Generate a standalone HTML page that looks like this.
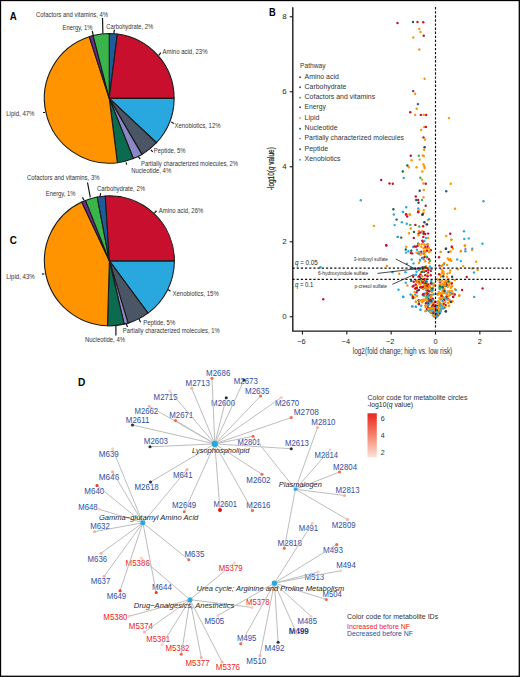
<!DOCTYPE html>
<html><head><meta charset="utf-8"><style>
html,body{margin:0;padding:0;background:#fff;}
#f{position:absolute;left:0;top:0;width:520px;height:677px;overflow:hidden;background:#fff;}
svg{display:block;font-family:"Liberation Sans", sans-serif;}
</style></head><body><div id="f">
<svg width="520" height="677" viewBox="0 0 520 677">
<rect x="0" y="0" width="520" height="677" fill="#fff"/>
<path d="M109.25,98.35 L109.25,33.50 A64.85,64.85 0 0 1 117.38,34.01 Z" fill="#1d5b9a" stroke="#1a1a1a" stroke-width="1.1" stroke-linejoin="round"/>
<path d="M109.25,98.35 L117.38,34.01 A64.85,64.85 0 0 1 174.10,98.35 Z" fill="#c8102e" stroke="#1a1a1a" stroke-width="1.1" stroke-linejoin="round"/>
<path d="M109.25,98.35 L174.10,98.35 A64.85,64.85 0 0 1 156.52,142.74 Z" fill="#29a8e0" stroke="#1a1a1a" stroke-width="1.1" stroke-linejoin="round"/>
<path d="M109.25,98.35 L156.52,142.74 A64.85,64.85 0 0 1 141.87,154.40 Z" fill="#4a5566" stroke="#1a1a1a" stroke-width="1.1" stroke-linejoin="round"/>
<path d="M109.25,98.35 L141.87,154.40 A64.85,64.85 0 0 1 133.33,158.56 Z" fill="#8d86c9" stroke="#1a1a1a" stroke-width="1.1" stroke-linejoin="round"/>
<path d="M109.25,98.35 L133.33,158.56 A64.85,64.85 0 0 1 117.38,162.69 Z" fill="#0b6b4e" stroke="#1a1a1a" stroke-width="1.1" stroke-linejoin="round"/>
<path d="M109.25,98.35 L117.38,162.69 A64.85,64.85 0 0 1 89.21,36.67 Z" fill="#ff9400" stroke="#1a1a1a" stroke-width="1.1" stroke-linejoin="round"/>
<path d="M109.25,98.35 L89.21,36.67 A64.85,64.85 0 0 1 93.12,35.54 Z" fill="#662d8c" stroke="#1a1a1a" stroke-width="1.1" stroke-linejoin="round"/>
<path d="M109.25,98.35 L93.12,35.54 A64.85,64.85 0 0 1 109.25,33.50 Z" fill="#3ab54a" stroke="#1a1a1a" stroke-width="1.1" stroke-linejoin="round"/>
<path d="M109.40,260.85 L174.40,260.85 A65.0,65.0 0 0 1 147.97,313.17 Z" fill="#29a8e0" stroke="#1a1a1a" stroke-width="1.1" stroke-linejoin="round"/>
<path d="M109.40,260.85 L147.97,313.17 A65.0,65.0 0 0 1 128.08,323.11 Z" fill="#4a5566" stroke="#1a1a1a" stroke-width="1.1" stroke-linejoin="round"/>
<path d="M109.40,260.85 L128.08,323.11 A65.0,65.0 0 0 1 124.13,324.16 Z" fill="#8d86c9" stroke="#1a1a1a" stroke-width="1.1" stroke-linejoin="round"/>
<path d="M109.40,260.85 L124.13,324.16 A65.0,65.0 0 0 1 107.47,325.82 Z" fill="#0b6b4e" stroke="#1a1a1a" stroke-width="1.1" stroke-linejoin="round"/>
<path d="M109.40,260.85 L107.47,325.82 A65.0,65.0 0 0 1 81.72,202.04 Z" fill="#ff9400" stroke="#1a1a1a" stroke-width="1.1" stroke-linejoin="round"/>
<path d="M109.40,260.85 L81.72,202.04 A65.0,65.0 0 0 1 85.47,200.41 Z" fill="#662d8c" stroke="#1a1a1a" stroke-width="1.1" stroke-linejoin="round"/>
<path d="M109.40,260.85 L85.47,200.41 A65.0,65.0 0 0 1 97.22,197.00 Z" fill="#3ab54a" stroke="#1a1a1a" stroke-width="1.1" stroke-linejoin="round"/>
<path d="M109.40,260.85 L97.22,197.00 A65.0,65.0 0 0 1 105.32,195.98 Z" fill="#1d5b9a" stroke="#1a1a1a" stroke-width="1.1" stroke-linejoin="round"/>
<path d="M109.40,260.85 L105.32,195.98 A65.0,65.0 0 0 1 174.40,260.85 Z" fill="#c8102e" stroke="#1a1a1a" stroke-width="1.1" stroke-linejoin="round"/>
<text x="36.00" y="16.50" font-size="6.9" fill="#333333" textLength="72.00" lengthAdjust="spacingAndGlyphs">Cofactors and vitamins, 4%</text>
<text x="62.50" y="29.50" font-size="6.9" fill="#333333" textLength="30.00" lengthAdjust="spacingAndGlyphs">Energy, 1%</text>
<text x="106.25" y="28.75" font-size="6.9" fill="#333333" textLength="47.00" lengthAdjust="spacingAndGlyphs">Carbohydrate, 2%</text>
<text x="162.50" y="53.75" font-size="6.9" fill="#333333" textLength="45.00" lengthAdjust="spacingAndGlyphs">Amino acid, 23%</text>
<text x="174.50" y="128.00" font-size="6.9" fill="#333333" textLength="46.00" lengthAdjust="spacingAndGlyphs">Xenobiotics, 12%</text>
<text x="153.75" y="153.25" font-size="6.9" fill="#333333" textLength="31.75" lengthAdjust="spacingAndGlyphs">Peptide, 5%</text>
<text x="141.00" y="165.60" font-size="6.9" fill="#333333" textLength="97.00" lengthAdjust="spacingAndGlyphs">Partially characterized molecules, 2%</text>
<text x="131.20" y="172.90" font-size="6.9" fill="#333333" textLength="40.00" lengthAdjust="spacingAndGlyphs">Nucleotide, 4%</text>
<text x="6.25" y="115.75" font-size="6.9" fill="#333333" textLength="28.25" lengthAdjust="spacingAndGlyphs">Lipid, 47%</text>
<line x1="102.50" y1="18.00" x2="102.90" y2="33.60" stroke="#151515" stroke-width="1.2"/>
<line x1="92.20" y1="30.80" x2="93.20" y2="35.20" stroke="#151515" stroke-width="1.2"/>
<line x1="114.40" y1="29.60" x2="113.80" y2="33.80" stroke="#151515" stroke-width="1.2"/>
<line x1="158.80" y1="55.30" x2="160.80" y2="52.60" stroke="#151515" stroke-width="1.2"/>
<line x1="171.30" y1="122.00" x2="173.80" y2="123.60" stroke="#151515" stroke-width="1.2"/>
<line x1="150.90" y1="149.80" x2="152.70" y2="151.90" stroke="#151515" stroke-width="1.2"/>
<line x1="138.30" y1="156.70" x2="140.20" y2="159.00" stroke="#151515" stroke-width="1.2"/>
<line x1="126.10" y1="162.30" x2="126.70" y2="164.60" stroke="#151515" stroke-width="1.2"/>
<line x1="43.00" y1="112.50" x2="45.00" y2="112.50" stroke="#151515" stroke-width="1.2"/>
<text x="27.00" y="180.00" font-size="6.9" fill="#333333" textLength="72.50" lengthAdjust="spacingAndGlyphs">Cofactors and vitamins, 3%</text>
<text x="45.75" y="196.25" font-size="6.9" fill="#333333" textLength="29.75" lengthAdjust="spacingAndGlyphs">Energy, 1%</text>
<text x="97.00" y="190.90" font-size="6.9" fill="#333333" textLength="48.00" lengthAdjust="spacingAndGlyphs">Carbohydrate, 2%</text>
<text x="158.75" y="212.50" font-size="6.9" fill="#333333" textLength="44.50" lengthAdjust="spacingAndGlyphs">Amino acid, 26%</text>
<text x="172.50" y="295.50" font-size="6.9" fill="#333333" textLength="46.25" lengthAdjust="spacingAndGlyphs">Xenobiotics, 15%</text>
<text x="143.20" y="324.60" font-size="6.9" fill="#333333" textLength="32.00" lengthAdjust="spacingAndGlyphs">Peptide, 5%</text>
<text x="122.80" y="333.40" font-size="6.9" fill="#333333" textLength="96.80" lengthAdjust="spacingAndGlyphs">Partially characterized molecules, 1%</text>
<text x="85.00" y="342.00" font-size="6.9" fill="#333333" textLength="40.00" lengthAdjust="spacingAndGlyphs">Nucleotide, 4%</text>
<text x="6.25" y="278.75" font-size="6.9" fill="#333333" textLength="28.50" lengthAdjust="spacingAndGlyphs">Lipid, 43%</text>
<line x1="87.50" y1="182.50" x2="90.30" y2="197.40" stroke="#151515" stroke-width="1.2"/>
<line x1="82.50" y1="197.20" x2="83.90" y2="200.20" stroke="#151515" stroke-width="1.2"/>
<line x1="100.60" y1="193.20" x2="100.10" y2="196.60" stroke="#151515" stroke-width="1.2"/>
<line x1="154.50" y1="213.00" x2="156.50" y2="210.75" stroke="#151515" stroke-width="1.2"/>
<line x1="168.00" y1="289.50" x2="170.50" y2="291.25" stroke="#151515" stroke-width="1.2"/>
<line x1="139.00" y1="319.10" x2="140.60" y2="322.30" stroke="#151515" stroke-width="1.2"/>
<line x1="126.30" y1="324.00" x2="127.50" y2="326.90" stroke="#151515" stroke-width="1.2"/>
<line x1="115.90" y1="325.80" x2="115.90" y2="335.60" stroke="#151515" stroke-width="1.2"/>
<line x1="41.90" y1="274.00" x2="44.40" y2="274.00" stroke="#151515" stroke-width="1.2"/>
<text x="9.80" y="19.60" font-size="10.6" fill="#000" textLength="7.00" lengthAdjust="spacingAndGlyphs" font-weight="bold">A</text>
<text x="269.00" y="15.60" font-size="10.6" fill="#000" textLength="6.70" lengthAdjust="spacingAndGlyphs" font-weight="bold">B</text>
<text x="9.80" y="243.70" font-size="10.6" fill="#000" textLength="7.10" lengthAdjust="spacingAndGlyphs" font-weight="bold">C</text>
<text x="78.00" y="385.50" font-size="10.6" fill="#000" textLength="7.30" lengthAdjust="spacingAndGlyphs" font-weight="bold">D</text>
<path d="M292.8,7.2 V331.1 H511.8" fill="none" stroke="#1a1a1a" stroke-width="1.4"/>
<line x1="289.70" y1="316.75" x2="292.80" y2="316.75" stroke="#1a1a1a" stroke-width="1.1"/>
<text x="286.60" y="319.20" font-size="7.9" fill="#231f20" text-anchor="end">0</text>
<line x1="289.70" y1="241.75" x2="292.80" y2="241.75" stroke="#1a1a1a" stroke-width="1.1"/>
<text x="286.60" y="244.20" font-size="7.9" fill="#231f20" text-anchor="end">2</text>
<line x1="289.70" y1="166.75" x2="292.80" y2="166.75" stroke="#1a1a1a" stroke-width="1.1"/>
<text x="286.60" y="169.20" font-size="7.9" fill="#231f20" text-anchor="end">4</text>
<line x1="289.70" y1="91.75" x2="292.80" y2="91.75" stroke="#1a1a1a" stroke-width="1.1"/>
<text x="286.60" y="94.20" font-size="7.9" fill="#231f20" text-anchor="end">6</text>
<line x1="289.70" y1="16.75" x2="292.80" y2="16.75" stroke="#1a1a1a" stroke-width="1.1"/>
<text x="286.60" y="19.20" font-size="7.9" fill="#231f20" text-anchor="end">8</text>
<line x1="302.48" y1="331.10" x2="302.48" y2="334.60" stroke="#1a1a1a" stroke-width="1.1"/>
<text x="301.48" y="343.70" font-size="7.4" fill="#231f20" text-anchor="middle">−6</text>
<line x1="346.82" y1="331.10" x2="346.82" y2="334.60" stroke="#1a1a1a" stroke-width="1.1"/>
<text x="345.82" y="343.70" font-size="7.4" fill="#231f20" text-anchor="middle">−4</text>
<line x1="391.16" y1="331.10" x2="391.16" y2="334.60" stroke="#1a1a1a" stroke-width="1.1"/>
<text x="390.16" y="343.70" font-size="7.4" fill="#231f20" text-anchor="middle">−2</text>
<line x1="435.50" y1="331.10" x2="435.50" y2="334.60" stroke="#1a1a1a" stroke-width="1.1"/>
<text x="435.50" y="343.70" font-size="7.4" fill="#231f20" text-anchor="middle">0</text>
<line x1="479.84" y1="331.10" x2="479.84" y2="334.60" stroke="#1a1a1a" stroke-width="1.1"/>
<text x="479.84" y="343.70" font-size="7.4" fill="#231f20" text-anchor="middle">2</text>
<text x="352.70" y="353.90" font-size="9" fill="#333333" textLength="99.60" lengthAdjust="spacingAndGlyphs">log2(fold change; high vs. low risk)</text>
<text transform="translate(274.4,190.2) rotate(-90)" font-size="9" fill="#1a1a1a" stroke="#1a1a1a" stroke-width="0.2" textLength="43" lengthAdjust="spacingAndGlyphs">-log10(<tspan font-style="italic">q</tspan> value)</text>
<text x="295" y="264.6" font-size="6.3" fill="#231f20" textLength="22.8" lengthAdjust="spacingAndGlyphs"><tspan font-style="italic">q</tspan> = 0.05</text>
<text x="295" y="286.6" font-size="6.3" fill="#231f20" textLength="18.4" lengthAdjust="spacingAndGlyphs"><tspan font-style="italic">q</tspan> = 0.1</text>
<text x="353.80" y="261.10" font-size="5.6" fill="#2a2a2a" textLength="34.20" lengthAdjust="spacingAndGlyphs">3-indoxyl sulfate</text>
<text x="318.00" y="275.30" font-size="5.6" fill="#2a2a2a" textLength="50.20" lengthAdjust="spacingAndGlyphs">6-hydroxyindole sulfate</text>
<text x="354.40" y="288.10" font-size="5.6" fill="#2a2a2a" textLength="32.60" lengthAdjust="spacingAndGlyphs">p-cresol sulfate</text>
<text x="300.00" y="67.60" font-size="7.2" fill="#333333" textLength="25.50" lengthAdjust="spacingAndGlyphs">Pathway</text>
<circle cx="300.10" cy="77.15" r="0.95" fill="#c8102e"/>
<text x="304.60" y="78.75" font-size="7.2" fill="#333333" textLength="34.20" lengthAdjust="spacingAndGlyphs">Amino acid</text>
<circle cx="300.10" cy="87.30" r="0.95" fill="#1d5b9a"/>
<text x="304.60" y="88.90" font-size="7.2" fill="#333333" textLength="41.80" lengthAdjust="spacingAndGlyphs">Carbohydrate</text>
<circle cx="300.10" cy="97.70" r="0.95" fill="#3ab54a"/>
<text x="304.60" y="99.30" font-size="7.2" fill="#333333" textLength="70.60" lengthAdjust="spacingAndGlyphs">Cofactors and vitamins</text>
<circle cx="300.10" cy="107.30" r="0.95" fill="#662d8c"/>
<text x="304.60" y="108.90" font-size="7.2" fill="#333333" textLength="21.30" lengthAdjust="spacingAndGlyphs">Energy</text>
<circle cx="300.10" cy="117.90" r="0.95" fill="#ff9400"/>
<text x="304.60" y="119.50" font-size="7.2" fill="#333333" textLength="14.80" lengthAdjust="spacingAndGlyphs">Lipid</text>
<circle cx="300.10" cy="128.80" r="0.95" fill="#0b6b4e"/>
<text x="304.60" y="130.40" font-size="7.2" fill="#333333" textLength="33.00" lengthAdjust="spacingAndGlyphs">Nucleotide</text>
<circle cx="300.10" cy="138.60" r="0.95" fill="#8d86c9"/>
<text x="304.60" y="140.20" font-size="7.2" fill="#333333" textLength="99.20" lengthAdjust="spacingAndGlyphs">Partially characterized molecules</text>
<circle cx="300.10" cy="149.20" r="0.95" fill="#4a5566"/>
<text x="304.60" y="150.80" font-size="7.2" fill="#333333" textLength="23.50" lengthAdjust="spacingAndGlyphs">Peptide</text>
<circle cx="300.10" cy="159.70" r="0.95" fill="#29a8e0"/>
<text x="304.60" y="161.30" font-size="7.2" fill="#333333" textLength="36.00" lengthAdjust="spacingAndGlyphs">Xenobiotics</text>
<circle cx="397.50" cy="23.00" r="1.2" fill="#c8102e"/>
<circle cx="413.00" cy="22.00" r="1.2" fill="#0b6b4e"/>
<circle cx="417.50" cy="22.00" r="1.2" fill="#c8102e"/>
<circle cx="423.25" cy="22.20" r="1.2" fill="#c8102e"/>
<circle cx="419.25" cy="29.00" r="1.2" fill="#ff9400"/>
<circle cx="420.50" cy="32.00" r="1.2" fill="#ff9400"/>
<circle cx="423.75" cy="35.75" r="1.2" fill="#c8102e"/>
<circle cx="413.25" cy="37.50" r="1.2" fill="#ff9400"/>
<circle cx="419.25" cy="49.50" r="1.2" fill="#ff9400"/>
<circle cx="424.60" cy="78.70" r="1.2" fill="#ff9400"/>
<circle cx="413.20" cy="91.10" r="1.2" fill="#662d8c"/>
<circle cx="415.10" cy="93.70" r="1.2" fill="#ff9400"/>
<circle cx="417.90" cy="104.10" r="1.2" fill="#1d5b9a"/>
<circle cx="416.70" cy="108.80" r="1.2" fill="#ff9400"/>
<circle cx="448.90" cy="118.10" r="1.2" fill="#ff9400"/>
<circle cx="410.20" cy="112.30" r="1.2" fill="#c8102e"/>
<circle cx="415.10" cy="114.90" r="1.2" fill="#ff9400"/>
<circle cx="420.80" cy="114.90" r="1.2" fill="#c8102e"/>
<circle cx="423.80" cy="114.90" r="1.2" fill="#ff9400"/>
<circle cx="426.20" cy="114.90" r="1.2" fill="#c8102e"/>
<circle cx="424.30" cy="126.90" r="1.2" fill="#ff9400"/>
<circle cx="425.90" cy="126.90" r="1.2" fill="#c8102e"/>
<circle cx="421.20" cy="130.00" r="1.2" fill="#ff9400"/>
<circle cx="423.50" cy="137.40" r="1.2" fill="#c8102e"/>
<circle cx="425.10" cy="139.50" r="1.2" fill="#ff9400"/>
<circle cx="424.60" cy="147.20" r="1.2" fill="#34405a"/>
<circle cx="424.20" cy="150.00" r="1.2" fill="#ff9400"/>
<circle cx="410.80" cy="155.70" r="1.2" fill="#c8102e"/>
<circle cx="418.80" cy="155.70" r="1.2" fill="#3ab54a"/>
<circle cx="422.80" cy="155.40" r="1.2" fill="#ff9400"/>
<circle cx="423.80" cy="156.00" r="1.2" fill="#ff9400"/>
<circle cx="411.50" cy="160.20" r="1.2" fill="#ff9400"/>
<circle cx="419.70" cy="159.60" r="1.2" fill="#ff9400"/>
<circle cx="407.40" cy="165.50" r="1.2" fill="#0b6b4e"/>
<circle cx="408.90" cy="167.30" r="1.2" fill="#ff9400"/>
<circle cx="416.50" cy="167.30" r="1.2" fill="#ff9400"/>
<circle cx="423.50" cy="164.50" r="1.2" fill="#ff9400"/>
<circle cx="424.30" cy="166.50" r="1.2" fill="#ff9400"/>
<circle cx="424.60" cy="168.00" r="1.2" fill="#ff9400"/>
<circle cx="402.80" cy="171.50" r="1.2" fill="#0b6b4e"/>
<circle cx="422.30" cy="171.50" r="1.2" fill="#ff9400"/>
<circle cx="403.80" cy="178.00" r="1.2" fill="#29a8e0"/>
<circle cx="420.30" cy="177.80" r="1.2" fill="#3ab54a"/>
<circle cx="422.00" cy="179.60" r="1.2" fill="#ff9400"/>
<circle cx="381.20" cy="180.00" r="1.2" fill="#c8102e"/>
<circle cx="389.50" cy="183.50" r="1.2" fill="#c8102e"/>
<circle cx="392.80" cy="183.80" r="1.2" fill="#c8102e"/>
<circle cx="423.40" cy="183.50" r="1.2" fill="#ff9400"/>
<circle cx="425.80" cy="183.80" r="1.2" fill="#c8102e"/>
<circle cx="450.70" cy="183.80" r="1.2" fill="#ff9400"/>
<circle cx="419.70" cy="190.80" r="1.2" fill="#34405a"/>
<circle cx="423.80" cy="189.90" r="1.2" fill="#ff9400"/>
<circle cx="446.20" cy="191.30" r="1.2" fill="#1d5b9a"/>
<circle cx="415.80" cy="196.50" r="1.2" fill="#c8102e"/>
<circle cx="423.50" cy="197.30" r="1.2" fill="#ff9400"/>
<circle cx="416.20" cy="200.00" r="1.2" fill="#0b6b4e"/>
<circle cx="418.20" cy="200.00" r="1.2" fill="#c8102e"/>
<circle cx="422.00" cy="200.00" r="1.2" fill="#3ab54a"/>
<circle cx="418.50" cy="202.70" r="1.2" fill="#34405a"/>
<circle cx="425.70" cy="205.80" r="1.2" fill="#c8102e"/>
<circle cx="393.40" cy="209.30" r="1.2" fill="#0b6b4e"/>
<circle cx="406.20" cy="207.30" r="1.2" fill="#29a8e0"/>
<circle cx="418.20" cy="208.50" r="1.2" fill="#29a8e0"/>
<circle cx="419.20" cy="210.40" r="1.2" fill="#ff9400"/>
<circle cx="423.80" cy="210.10" r="1.2" fill="#ff9400"/>
<circle cx="455.00" cy="208.80" r="1.2" fill="#ff9400"/>
<circle cx="403.10" cy="211.90" r="1.2" fill="#29a8e0"/>
<circle cx="423.50" cy="212.70" r="1.2" fill="#ff9400"/>
<circle cx="418.20" cy="212.20" r="1.2" fill="#c8102e"/>
<circle cx="393.80" cy="214.50" r="1.2" fill="#29a8e0"/>
<circle cx="406.20" cy="214.20" r="1.2" fill="#c8102e"/>
<circle cx="409.70" cy="214.20" r="1.2" fill="#ff9400"/>
<circle cx="422.80" cy="214.20" r="1.2" fill="#34405a"/>
<circle cx="360.80" cy="200.20" r="1.2" fill="#29a8e0"/>
<circle cx="374.00" cy="225.90" r="1.2" fill="#ff9400"/>
<circle cx="483.50" cy="201.20" r="1.2" fill="#29a8e0"/>
<circle cx="402.90" cy="211.90" r="1.2" fill="#29a8e0"/>
<circle cx="418.50" cy="210.50" r="1.2" fill="#ff9400"/>
<circle cx="418.00" cy="211.90" r="1.2" fill="#c8102e"/>
<circle cx="406.00" cy="214.60" r="1.2" fill="#c8102e"/>
<circle cx="407.20" cy="216.50" r="1.2" fill="#c8102e"/>
<circle cx="410.00" cy="214.80" r="1.2" fill="#ff9400"/>
<circle cx="422.30" cy="214.80" r="1.2" fill="#34405a"/>
<circle cx="396.60" cy="219.60" r="1.2" fill="#0b6b4e"/>
<circle cx="427.80" cy="220.10" r="1.2" fill="#ff9400"/>
<circle cx="429.00" cy="219.30" r="1.2" fill="#29a8e0"/>
<circle cx="401.90" cy="222.30" r="1.2" fill="#29a8e0"/>
<circle cx="406.70" cy="223.75" r="1.2" fill="#29a8e0"/>
<circle cx="394.60" cy="225.10" r="1.2" fill="#29a8e0"/>
<circle cx="424.40" cy="222.30" r="1.2" fill="#34405a"/>
<circle cx="426.00" cy="224.20" r="1.2" fill="#ff9400"/>
<circle cx="427.10" cy="224.40" r="1.2" fill="#34405a"/>
<circle cx="410.30" cy="224.90" r="1.2" fill="#3ab54a"/>
<circle cx="415.40" cy="224.90" r="1.2" fill="#c8102e"/>
<circle cx="419.20" cy="226.50" r="1.2" fill="#3ab54a"/>
<circle cx="423.10" cy="226.20" r="1.2" fill="#c8102e"/>
<circle cx="410.80" cy="228.50" r="1.2" fill="#ff9400"/>
<circle cx="414.00" cy="231.90" r="1.2" fill="#0b6b4e"/>
<circle cx="418.90" cy="231.20" r="1.2" fill="#ff9400"/>
<circle cx="422.10" cy="231.30" r="1.2" fill="#ff9400"/>
<circle cx="423.75" cy="231.90" r="1.2" fill="#c8102e"/>
<circle cx="420.40" cy="232.60" r="1.2" fill="#c8102e"/>
<circle cx="418.50" cy="233.80" r="1.2" fill="#c8102e"/>
<circle cx="423.50" cy="233.80" r="1.2" fill="#0b6b4e"/>
<circle cx="425.20" cy="234.00" r="1.2" fill="#c8102e"/>
<circle cx="428.10" cy="233.60" r="1.2" fill="#c8102e"/>
<circle cx="409.00" cy="233.30" r="1.2" fill="#ff9400"/>
<circle cx="418.50" cy="235.20" r="1.2" fill="#ff9400"/>
<circle cx="397.80" cy="236.90" r="1.2" fill="#29a8e0"/>
<circle cx="401.20" cy="237.60" r="1.2" fill="#0b6b4e"/>
<circle cx="413.80" cy="237.90" r="1.2" fill="#c8102e"/>
<circle cx="423.30" cy="236.90" r="1.2" fill="#c8102e"/>
<circle cx="426.00" cy="238.10" r="1.2" fill="#29a8e0"/>
<circle cx="428.10" cy="237.90" r="1.2" fill="#ff9400"/>
<circle cx="422.30" cy="240.80" r="1.2" fill="#c8102e"/>
<circle cx="423.10" cy="241.70" r="1.2" fill="#c8102e"/>
<circle cx="424.40" cy="241.00" r="1.2" fill="#29a8e0"/>
<circle cx="418.30" cy="243.70" r="1.2" fill="#34405a"/>
<circle cx="418.50" cy="244.40" r="1.2" fill="#ff9400"/>
<circle cx="422.00" cy="244.10" r="1.2" fill="#ff9400"/>
<circle cx="424.20" cy="244.40" r="1.2" fill="#ff9400"/>
<circle cx="427.60" cy="244.40" r="1.2" fill="#c8102e"/>
<circle cx="397.70" cy="236.90" r="1.2" fill="#29a8e0"/>
<circle cx="464.00" cy="231.20" r="1.2" fill="#29a8e0"/>
<circle cx="450.20" cy="233.70" r="1.2" fill="#c8102e"/>
<circle cx="446.20" cy="236.00" r="1.2" fill="#ff9400"/>
<circle cx="464.30" cy="238.90" r="1.2" fill="#29a8e0"/>
<circle cx="468.80" cy="238.40" r="1.2" fill="#29a8e0"/>
<circle cx="451.30" cy="239.70" r="1.2" fill="#ff9400"/>
<circle cx="482.50" cy="243.80" r="1.2" fill="#29a8e0"/>
<circle cx="386.30" cy="245.40" r="1.2" fill="#c8102e"/>
<circle cx="406.20" cy="246.70" r="1.2" fill="#ff9400"/>
<circle cx="413.20" cy="247.00" r="1.2" fill="#29a8e0"/>
<circle cx="414.60" cy="246.40" r="1.2" fill="#c8102e"/>
<circle cx="416.00" cy="246.70" r="1.2" fill="#c8102e"/>
<circle cx="417.50" cy="245.90" r="1.2" fill="#c8102e"/>
<circle cx="419.40" cy="244.40" r="1.2" fill="#ff9400"/>
<circle cx="425.20" cy="244.90" r="1.2" fill="#ff9400"/>
<circle cx="428.10" cy="244.40" r="1.2" fill="#ff9400"/>
<circle cx="425.20" cy="247.30" r="1.2" fill="#c8102e"/>
<circle cx="427.60" cy="246.80" r="1.2" fill="#c8102e"/>
<circle cx="421.30" cy="246.80" r="1.2" fill="#ff9400"/>
<circle cx="423.75" cy="248.30" r="1.2" fill="#ff9400"/>
<circle cx="426.60" cy="248.80" r="1.2" fill="#ff9400"/>
<circle cx="429.00" cy="248.30" r="1.2" fill="#ff9400"/>
<circle cx="405.80" cy="249.50" r="1.2" fill="#0b6b4e"/>
<circle cx="408.40" cy="251.20" r="1.2" fill="#29a8e0"/>
<circle cx="406.00" cy="252.60" r="1.2" fill="#29a8e0"/>
<circle cx="411.25" cy="250.70" r="1.2" fill="#0b6b4e"/>
<circle cx="410.80" cy="253.10" r="1.2" fill="#c8102e"/>
<circle cx="412.20" cy="253.40" r="1.2" fill="#c8102e"/>
<circle cx="417.00" cy="249.70" r="1.2" fill="#29a8e0"/>
<circle cx="416.50" cy="252.60" r="1.2" fill="#ff9400"/>
<circle cx="418.50" cy="253.60" r="1.2" fill="#c8102e"/>
<circle cx="421.30" cy="251.70" r="1.2" fill="#c8102e"/>
<circle cx="424.20" cy="251.20" r="1.2" fill="#c8102e"/>
<circle cx="427.10" cy="250.70" r="1.2" fill="#c8102e"/>
<circle cx="429.00" cy="252.10" r="1.2" fill="#ff9400"/>
<circle cx="422.30" cy="257.90" r="1.2" fill="#c8102e"/>
<circle cx="427.10" cy="257.40" r="1.2" fill="#c8102e"/>
<circle cx="429.00" cy="259.30" r="1.2" fill="#c8102e"/>
<circle cx="423.75" cy="259.30" r="1.2" fill="#ff9400"/>
<circle cx="425.20" cy="261.30" r="1.2" fill="#ff9400"/>
<circle cx="419.90" cy="261.10" r="1.2" fill="#ff9400"/>
<circle cx="411.70" cy="259.50" r="1.2" fill="#29a8e0"/>
<circle cx="413.50" cy="263.40" r="1.2" fill="#29a8e0"/>
<circle cx="406.90" cy="263.70" r="1.2" fill="#29a8e0"/>
<circle cx="386.90" cy="265.90" r="1.2" fill="#ff9400"/>
<circle cx="412.20" cy="268.20" r="1.2" fill="#29a8e0"/>
<circle cx="415.60" cy="268.80" r="1.2" fill="#c8102e"/>
<circle cx="418.00" cy="268.50" r="1.2" fill="#34405a"/>
<circle cx="420.40" cy="268.50" r="1.2" fill="#0b6b4e"/>
<circle cx="422.30" cy="267.50" r="1.2" fill="#c8102e"/>
<circle cx="426.20" cy="266.10" r="1.2" fill="#ff9400"/>
<circle cx="428.60" cy="268.50" r="1.2" fill="#ff9400"/>
<circle cx="416.50" cy="271.80" r="1.2" fill="#29a8e0"/>
<circle cx="405.50" cy="272.30" r="1.2" fill="#29a8e0"/>
<circle cx="392.50" cy="272.30" r="1.2" fill="#29a8e0"/>
<circle cx="399.20" cy="273.80" r="1.2" fill="#ff9400"/>
<circle cx="421.30" cy="272.30" r="1.2" fill="#ff9400"/>
<circle cx="424.20" cy="271.80" r="1.2" fill="#0b6b4e"/>
<circle cx="426.20" cy="270.90" r="1.2" fill="#c8102e"/>
<circle cx="428.10" cy="272.80" r="1.2" fill="#c8102e"/>
<circle cx="413.70" cy="275.20" r="1.2" fill="#29a8e0"/>
<circle cx="416.00" cy="274.70" r="1.2" fill="#29a8e0"/>
<circle cx="413.20" cy="276.70" r="1.2" fill="#c8102e"/>
<circle cx="418.00" cy="276.80" r="1.2" fill="#ff9400"/>
<circle cx="419.90" cy="277.10" r="1.2" fill="#0b6b4e"/>
<circle cx="425.20" cy="275.20" r="1.2" fill="#c8102e"/>
<circle cx="427.60" cy="276.20" r="1.2" fill="#c8102e"/>
<circle cx="430.80" cy="250.20" r="1.2" fill="#c8102e"/>
<circle cx="445.90" cy="248.80" r="1.2" fill="#34405a"/>
<circle cx="451.90" cy="247.00" r="1.2" fill="#c8102e"/>
<circle cx="452.90" cy="248.80" r="1.2" fill="#ff9400"/>
<circle cx="450.70" cy="251.50" r="1.2" fill="#ff9400"/>
<circle cx="448.50" cy="252.10" r="1.2" fill="#34405a"/>
<circle cx="440.60" cy="252.10" r="1.2" fill="#ff9400"/>
<circle cx="460.80" cy="251.20" r="1.2" fill="#ff9400"/>
<circle cx="464.80" cy="245.70" r="1.2" fill="#ff9400"/>
<circle cx="465.40" cy="249.00" r="1.2" fill="#8d86c9"/>
<circle cx="465.40" cy="251.20" r="1.2" fill="#29a8e0"/>
<circle cx="472.30" cy="248.80" r="1.2" fill="#29a8e0"/>
<circle cx="472.10" cy="250.00" r="1.2" fill="#ff9400"/>
<circle cx="439.10" cy="257.20" r="1.2" fill="#c8102e"/>
<circle cx="447.80" cy="258.40" r="1.2" fill="#ff9400"/>
<circle cx="448.75" cy="259.80" r="1.2" fill="#ff9400"/>
<circle cx="450.20" cy="259.30" r="1.2" fill="#ff9400"/>
<circle cx="451.20" cy="260.80" r="1.2" fill="#ff9400"/>
<circle cx="449.70" cy="260.30" r="1.2" fill="#ff9400"/>
<circle cx="457.20" cy="259.50" r="1.2" fill="#29a8e0"/>
<circle cx="460.80" cy="261.10" r="1.2" fill="#29a8e0"/>
<circle cx="476.20" cy="261.75" r="1.2" fill="#ff9400"/>
<circle cx="444.20" cy="263.20" r="1.2" fill="#ff9400"/>
<circle cx="443.90" cy="264.30" r="1.2" fill="#29a8e0"/>
<circle cx="447.10" cy="264.90" r="1.2" fill="#ff9400"/>
<circle cx="441.50" cy="266.10" r="1.2" fill="#ff9400"/>
<circle cx="442.50" cy="265.30" r="1.2" fill="#ff9400"/>
<circle cx="439.40" cy="265.60" r="1.2" fill="#c8102e"/>
<circle cx="463.20" cy="266.10" r="1.2" fill="#ff9400"/>
<circle cx="457.70" cy="269.20" r="1.2" fill="#ff9400"/>
<circle cx="472.30" cy="268.50" r="1.2" fill="#ff9400"/>
<circle cx="477.60" cy="269.90" r="1.2" fill="#ff9400"/>
<circle cx="474.00" cy="272.50" r="1.2" fill="#29a8e0"/>
<circle cx="441.50" cy="269.40" r="1.2" fill="#ff9400"/>
<circle cx="442.50" cy="270.90" r="1.2" fill="#ff9400"/>
<circle cx="443.50" cy="271.80" r="1.2" fill="#ff9400"/>
<circle cx="442.00" cy="272.80" r="1.2" fill="#ff9400"/>
<circle cx="443.90" cy="273.80" r="1.2" fill="#ff9400"/>
<circle cx="440.60" cy="274.70" r="1.2" fill="#ff9400"/>
<circle cx="443.00" cy="275.70" r="1.2" fill="#ff9400"/>
<circle cx="441.00" cy="276.70" r="1.2" fill="#ff9400"/>
<circle cx="450.20" cy="270.40" r="1.2" fill="#ff9400"/>
<circle cx="449.70" cy="272.80" r="1.2" fill="#ff9400"/>
<circle cx="447.30" cy="273.60" r="1.2" fill="#ff9400"/>
<circle cx="439.10" cy="274.25" r="1.2" fill="#c8102e"/>
<circle cx="430.80" cy="270.90" r="1.2" fill="#c8102e"/>
<circle cx="443.30" cy="276.50" r="1.2" fill="#34405a"/>
<circle cx="452.10" cy="276.70" r="1.2" fill="#34405a"/>
<circle cx="447.10" cy="276.80" r="1.2" fill="#ff9400"/>
<circle cx="466.70" cy="277.00" r="1.2" fill="#c8102e"/>
<circle cx="464.90" cy="245.40" r="1.2" fill="#ff9400"/>
<circle cx="451.40" cy="239.60" r="1.2" fill="#ff9400"/>
<circle cx="460.90" cy="251.00" r="1.2" fill="#ff9400"/>
<circle cx="451.80" cy="246.70" r="1.2" fill="#c8102e"/>
<circle cx="446.00" cy="248.80" r="1.2" fill="#34405a"/>
<circle cx="440.70" cy="251.70" r="1.2" fill="#ff9400"/>
<circle cx="320.40" cy="267.20" r="1.2" fill="#29a8e0"/>
<circle cx="323.20" cy="299.20" r="1.2" fill="#c8102e"/>
<circle cx="411.25" cy="280.90" r="1.2" fill="#0b6b4e"/>
<circle cx="405.80" cy="282.80" r="1.2" fill="#29a8e0"/>
<circle cx="416.70" cy="281.80" r="1.2" fill="#29a8e0"/>
<circle cx="419.40" cy="283.80" r="1.2" fill="#ff9400"/>
<circle cx="407.40" cy="285.50" r="1.2" fill="#ff9400"/>
<circle cx="412.70" cy="286.50" r="1.2" fill="#c8102e"/>
<circle cx="413.70" cy="285.70" r="1.2" fill="#c8102e"/>
<circle cx="416.50" cy="287.60" r="1.2" fill="#29a8e0"/>
<circle cx="415.10" cy="288.80" r="1.2" fill="#ff9400"/>
<circle cx="398.50" cy="289.70" r="1.2" fill="#29a8e0"/>
<circle cx="416.50" cy="292.40" r="1.2" fill="#c8102e"/>
<circle cx="418.90" cy="290.00" r="1.2" fill="#c8102e"/>
<circle cx="410.60" cy="294.50" r="1.2" fill="#29a8e0"/>
<circle cx="412.20" cy="295.30" r="1.2" fill="#ff9400"/>
<circle cx="403.10" cy="296.75" r="1.2" fill="#29a8e0"/>
<circle cx="413.20" cy="298.00" r="1.2" fill="#1d5b9a"/>
<circle cx="415.80" cy="301.80" r="1.2" fill="#ff9400"/>
<circle cx="418.90" cy="303.50" r="1.2" fill="#34405a"/>
<circle cx="419.40" cy="300.60" r="1.2" fill="#0b6b4e"/>
<circle cx="412.20" cy="306.40" r="1.2" fill="#29a8e0"/>
<circle cx="415.80" cy="306.70" r="1.2" fill="#29a8e0"/>
<circle cx="420.40" cy="309.70" r="1.2" fill="#29a8e0"/>
<circle cx="454.80" cy="280.10" r="1.2" fill="#ff9400"/>
<circle cx="446.80" cy="281.80" r="1.2" fill="#34405a"/>
<circle cx="440.10" cy="282.30" r="1.2" fill="#c8102e"/>
<circle cx="439.60" cy="284.70" r="1.2" fill="#ff9400"/>
<circle cx="442.50" cy="283.80" r="1.2" fill="#ff9400"/>
<circle cx="444.40" cy="284.70" r="1.2" fill="#ff9400"/>
<circle cx="445.90" cy="285.20" r="1.2" fill="#ff9400"/>
<circle cx="446.80" cy="284.70" r="1.2" fill="#c8102e"/>
<circle cx="447.80" cy="287.10" r="1.2" fill="#ff9400"/>
<circle cx="440.10" cy="287.60" r="1.2" fill="#29a8e0"/>
<circle cx="442.00" cy="287.10" r="1.2" fill="#c8102e"/>
<circle cx="444.40" cy="288.60" r="1.2" fill="#ff9400"/>
<circle cx="443.00" cy="290.50" r="1.2" fill="#34405a"/>
<circle cx="455.00" cy="289.10" r="1.2" fill="#ff9400"/>
<circle cx="455.80" cy="290.00" r="1.2" fill="#29a8e0"/>
<circle cx="462.00" cy="290.00" r="1.2" fill="#c8102e"/>
<circle cx="447.80" cy="291.50" r="1.2" fill="#ff9400"/>
<circle cx="449.70" cy="291.00" r="1.2" fill="#ff9400"/>
<circle cx="452.10" cy="291.00" r="1.2" fill="#ff9400"/>
<circle cx="453.10" cy="293.40" r="1.2" fill="#ff9400"/>
<circle cx="446.30" cy="293.40" r="1.2" fill="#29a8e0"/>
<circle cx="450.20" cy="292.90" r="1.2" fill="#29a8e0"/>
<circle cx="454.80" cy="294.50" r="1.2" fill="#c8102e"/>
<circle cx="459.30" cy="295.30" r="1.2" fill="#ff9400"/>
<circle cx="474.20" cy="296.90" r="1.2" fill="#29a8e0"/>
<circle cx="453.10" cy="296.75" r="1.2" fill="#c8102e"/>
<circle cx="448.75" cy="295.80" r="1.2" fill="#ff9400"/>
<circle cx="447.30" cy="297.20" r="1.2" fill="#ff9400"/>
<circle cx="447.80" cy="299.00" r="1.2" fill="#c8102e"/>
<circle cx="445.90" cy="298.40" r="1.2" fill="#3ab54a"/>
<circle cx="450.70" cy="301.60" r="1.2" fill="#34405a"/>
<circle cx="452.60" cy="301.10" r="1.2" fill="#ff9400"/>
<circle cx="445.40" cy="302.00" r="1.2" fill="#ff9400"/>
<circle cx="448.75" cy="306.10" r="1.2" fill="#ff9400"/>
<circle cx="444.40" cy="307.80" r="1.2" fill="#c8102e"/>
<circle cx="445.90" cy="311.20" r="1.2" fill="#34405a"/>
<circle cx="403.40" cy="297.00" r="1.2" fill="#29a8e0"/>
<circle cx="412.80" cy="298.00" r="1.2" fill="#34405a"/>
<circle cx="415.90" cy="301.70" r="1.2" fill="#ff9400"/>
<circle cx="412.40" cy="306.40" r="1.2" fill="#29a8e0"/>
<circle cx="415.90" cy="306.80" r="1.2" fill="#29a8e0"/>
<circle cx="420.50" cy="309.80" r="1.2" fill="#29a8e0"/>
<circle cx="445.80" cy="311.40" r="1.2" fill="#34405a"/>
<circle cx="449.10" cy="305.80" r="1.2" fill="#ff9400"/>
<circle cx="452.20" cy="301.50" r="1.2" fill="#ff9400"/>
<circle cx="450.90" cy="302.00" r="1.2" fill="#34405a"/>
<circle cx="453.20" cy="297.00" r="1.2" fill="#c8102e"/>
<circle cx="459.20" cy="295.70" r="1.2" fill="#ff9400"/>
<circle cx="420.04" cy="259.71" r="1.2" fill="#29a8e0"/>
<circle cx="425.23" cy="252.17" r="1.2" fill="#ff9400"/>
<circle cx="424.85" cy="251.74" r="1.2" fill="#ff9400"/>
<circle cx="418.94" cy="263.01" r="1.2" fill="#ff9400"/>
<circle cx="429.16" cy="262.74" r="1.2" fill="#ff9400"/>
<circle cx="426.47" cy="256.70" r="1.2" fill="#3ab54a"/>
<circle cx="423.36" cy="267.31" r="1.2" fill="#1d5b9a"/>
<circle cx="429.59" cy="251.40" r="1.2" fill="#ff9400"/>
<circle cx="419.59" cy="254.33" r="1.2" fill="#ff9400"/>
<circle cx="420.44" cy="274.48" r="1.2" fill="#c8102e"/>
<circle cx="423.03" cy="269.17" r="1.2" fill="#c8102e"/>
<circle cx="418.80" cy="251.88" r="1.2" fill="#ff9400"/>
<circle cx="423.77" cy="270.41" r="1.2" fill="#ff9400"/>
<circle cx="424.12" cy="267.57" r="1.2" fill="#ff9400"/>
<circle cx="427.44" cy="273.83" r="1.2" fill="#ff9400"/>
<circle cx="425.09" cy="267.23" r="1.2" fill="#0b6b4e"/>
<circle cx="421.89" cy="271.88" r="1.2" fill="#1d5b9a"/>
<circle cx="423.64" cy="253.54" r="1.2" fill="#29a8e0"/>
<circle cx="424.60" cy="254.56" r="1.2" fill="#ff9400"/>
<circle cx="428.32" cy="270.05" r="1.2" fill="#c8102e"/>
<circle cx="422.24" cy="276.26" r="1.2" fill="#29a8e0"/>
<circle cx="425.83" cy="267.83" r="1.2" fill="#c8102e"/>
<circle cx="430.75" cy="275.20" r="1.2" fill="#c8102e"/>
<circle cx="418.82" cy="269.92" r="1.2" fill="#29a8e0"/>
<circle cx="431.41" cy="269.41" r="1.2" fill="#29a8e0"/>
<circle cx="423.21" cy="258.54" r="1.2" fill="#29a8e0"/>
<circle cx="424.23" cy="250.68" r="1.2" fill="#ff9400"/>
<circle cx="418.80" cy="253.51" r="1.2" fill="#29a8e0"/>
<circle cx="421.34" cy="253.88" r="1.2" fill="#ff9400"/>
<circle cx="419.09" cy="276.14" r="1.2" fill="#c8102e"/>
<circle cx="429.93" cy="266.48" r="1.2" fill="#29a8e0"/>
<circle cx="421.76" cy="275.92" r="1.2" fill="#ff9400"/>
<circle cx="429.94" cy="260.76" r="1.2" fill="#3ab54a"/>
<circle cx="420.38" cy="254.53" r="1.2" fill="#ff9400"/>
<circle cx="424.55" cy="257.00" r="1.2" fill="#c8102e"/>
<circle cx="423.25" cy="287.67" r="1.2" fill="#c8102e"/>
<circle cx="439.22" cy="310.45" r="1.2" fill="#ff9400"/>
<circle cx="447.09" cy="299.38" r="1.2" fill="#29a8e0"/>
<circle cx="431.02" cy="307.86" r="1.2" fill="#ff9400"/>
<circle cx="446.25" cy="282.42" r="1.2" fill="#ff9400"/>
<circle cx="426.58" cy="281.22" r="1.2" fill="#ff9400"/>
<circle cx="427.11" cy="279.01" r="1.2" fill="#ff9400"/>
<circle cx="431.49" cy="291.00" r="1.2" fill="#ff9400"/>
<circle cx="422.58" cy="287.32" r="1.2" fill="#ff9400"/>
<circle cx="451.72" cy="283.05" r="1.2" fill="#ff9400"/>
<circle cx="431.72" cy="294.97" r="1.2" fill="#ff9400"/>
<circle cx="434.40" cy="306.35" r="1.2" fill="#ff9400"/>
<circle cx="440.25" cy="310.38" r="1.2" fill="#ff9400"/>
<circle cx="446.56" cy="296.43" r="1.2" fill="#c8102e"/>
<circle cx="430.57" cy="287.62" r="1.2" fill="#ff9400"/>
<circle cx="439.46" cy="304.47" r="1.2" fill="#ff9400"/>
<circle cx="442.66" cy="305.78" r="1.2" fill="#29a8e0"/>
<circle cx="435.48" cy="306.00" r="1.2" fill="#ff9400"/>
<circle cx="430.06" cy="296.08" r="1.2" fill="#ff9400"/>
<circle cx="442.77" cy="287.55" r="1.2" fill="#0b6b4e"/>
<circle cx="451.51" cy="293.76" r="1.2" fill="#0b6b4e"/>
<circle cx="427.99" cy="291.03" r="1.2" fill="#ff9400"/>
<circle cx="445.14" cy="299.59" r="1.2" fill="#ff9400"/>
<circle cx="418.64" cy="300.55" r="1.2" fill="#34405a"/>
<circle cx="432.67" cy="304.82" r="1.2" fill="#ff9400"/>
<circle cx="425.73" cy="311.06" r="1.2" fill="#ff9400"/>
<circle cx="430.88" cy="283.19" r="1.2" fill="#34405a"/>
<circle cx="433.26" cy="290.56" r="1.2" fill="#ff9400"/>
<circle cx="437.64" cy="279.47" r="1.2" fill="#ff9400"/>
<circle cx="438.42" cy="309.81" r="1.2" fill="#ff9400"/>
<circle cx="421.10" cy="287.31" r="1.2" fill="#ff9400"/>
<circle cx="427.95" cy="298.35" r="1.2" fill="#34405a"/>
<circle cx="442.84" cy="290.67" r="1.2" fill="#ff9400"/>
<circle cx="437.06" cy="308.84" r="1.2" fill="#ff9400"/>
<circle cx="426.85" cy="296.28" r="1.2" fill="#c8102e"/>
<circle cx="426.56" cy="285.04" r="1.2" fill="#c8102e"/>
<circle cx="441.09" cy="296.11" r="1.2" fill="#ff9400"/>
<circle cx="424.61" cy="287.20" r="1.2" fill="#29a8e0"/>
<circle cx="441.30" cy="295.75" r="1.2" fill="#ff9400"/>
<circle cx="432.34" cy="299.21" r="1.2" fill="#c8102e"/>
<circle cx="435.57" cy="301.86" r="1.2" fill="#c8102e"/>
<circle cx="427.97" cy="307.93" r="1.2" fill="#c8102e"/>
<circle cx="426.55" cy="310.13" r="1.2" fill="#29a8e0"/>
<circle cx="427.43" cy="293.59" r="1.2" fill="#ff9400"/>
<circle cx="445.55" cy="281.41" r="1.2" fill="#ff9400"/>
<circle cx="432.01" cy="302.63" r="1.2" fill="#ff9400"/>
<circle cx="427.16" cy="308.13" r="1.2" fill="#3ab54a"/>
<circle cx="448.21" cy="292.14" r="1.2" fill="#ff9400"/>
<circle cx="440.95" cy="293.24" r="1.2" fill="#ff9400"/>
<circle cx="425.80" cy="285.46" r="1.2" fill="#c8102e"/>
<circle cx="427.58" cy="293.54" r="1.2" fill="#ff9400"/>
<circle cx="449.30" cy="299.59" r="1.2" fill="#29a8e0"/>
<circle cx="438.18" cy="311.07" r="1.2" fill="#ff9400"/>
<circle cx="422.09" cy="280.31" r="1.2" fill="#ff9400"/>
<circle cx="444.58" cy="292.93" r="1.2" fill="#ff9400"/>
<circle cx="423.29" cy="281.95" r="1.2" fill="#ff9400"/>
<circle cx="434.28" cy="309.97" r="1.2" fill="#29a8e0"/>
<circle cx="413.73" cy="281.76" r="1.2" fill="#c8102e"/>
<circle cx="444.51" cy="290.19" r="1.2" fill="#ff9400"/>
<circle cx="427.81" cy="296.39" r="1.2" fill="#ff9400"/>
<circle cx="426.63" cy="284.33" r="1.2" fill="#ff9400"/>
<circle cx="428.78" cy="284.87" r="1.2" fill="#ff9400"/>
<circle cx="439.48" cy="303.19" r="1.2" fill="#ff9400"/>
<circle cx="415.36" cy="294.67" r="1.2" fill="#29a8e0"/>
<circle cx="443.14" cy="293.26" r="1.2" fill="#ff9400"/>
<circle cx="427.91" cy="301.70" r="1.2" fill="#29a8e0"/>
<circle cx="428.49" cy="290.47" r="1.2" fill="#29a8e0"/>
<circle cx="427.65" cy="287.43" r="1.2" fill="#ff9400"/>
<circle cx="437.67" cy="306.76" r="1.2" fill="#ff9400"/>
<circle cx="424.13" cy="286.99" r="1.2" fill="#c8102e"/>
<circle cx="450.88" cy="287.69" r="1.2" fill="#ff9400"/>
<circle cx="423.69" cy="287.07" r="1.2" fill="#ff9400"/>
<circle cx="424.60" cy="279.04" r="1.2" fill="#c8102e"/>
<circle cx="428.58" cy="295.59" r="1.2" fill="#ff9400"/>
<circle cx="424.88" cy="281.96" r="1.2" fill="#ff9400"/>
<circle cx="424.80" cy="279.74" r="1.2" fill="#c8102e"/>
<circle cx="443.67" cy="303.77" r="1.2" fill="#c8102e"/>
<circle cx="427.38" cy="308.01" r="1.2" fill="#ff9400"/>
<circle cx="448.23" cy="302.90" r="1.2" fill="#ff9400"/>
<circle cx="436.62" cy="306.56" r="1.2" fill="#c8102e"/>
<circle cx="427.35" cy="305.80" r="1.2" fill="#29a8e0"/>
<circle cx="435.59" cy="305.55" r="1.2" fill="#c8102e"/>
<circle cx="430.16" cy="301.88" r="1.2" fill="#ff9400"/>
<circle cx="431.33" cy="283.39" r="1.2" fill="#c8102e"/>
<circle cx="444.02" cy="299.72" r="1.2" fill="#c8102e"/>
<circle cx="430.81" cy="295.15" r="1.2" fill="#c8102e"/>
<circle cx="444.25" cy="285.77" r="1.2" fill="#3ab54a"/>
<circle cx="422.87" cy="295.30" r="1.2" fill="#29a8e0"/>
<circle cx="440.72" cy="299.36" r="1.2" fill="#ff9400"/>
<circle cx="425.31" cy="283.87" r="1.2" fill="#c8102e"/>
<circle cx="420.72" cy="279.41" r="1.2" fill="#ff9400"/>
<circle cx="438.32" cy="301.18" r="1.2" fill="#ff9400"/>
<circle cx="438.54" cy="294.33" r="1.2" fill="#ff9400"/>
<circle cx="442.14" cy="308.49" r="1.2" fill="#ff9400"/>
<circle cx="450.69" cy="294.15" r="1.2" fill="#ff9400"/>
<circle cx="425.37" cy="287.87" r="1.2" fill="#3ab54a"/>
<circle cx="445.65" cy="285.95" r="1.2" fill="#0b6b4e"/>
<circle cx="431.86" cy="283.38" r="1.2" fill="#0b6b4e"/>
<circle cx="434.75" cy="302.21" r="1.2" fill="#c8102e"/>
<circle cx="419.87" cy="279.82" r="1.2" fill="#ff9400"/>
<circle cx="425.62" cy="283.64" r="1.2" fill="#ff9400"/>
<circle cx="432.35" cy="306.73" r="1.2" fill="#ff9400"/>
<circle cx="431.08" cy="309.57" r="1.2" fill="#34405a"/>
<circle cx="415.40" cy="288.56" r="1.2" fill="#c8102e"/>
<circle cx="426.14" cy="280.59" r="1.2" fill="#3ab54a"/>
<circle cx="423.64" cy="287.23" r="1.2" fill="#c8102e"/>
<circle cx="448.61" cy="299.82" r="1.2" fill="#ff9400"/>
<circle cx="428.86" cy="302.75" r="1.2" fill="#29a8e0"/>
<circle cx="437.42" cy="293.88" r="1.2" fill="#ff9400"/>
<circle cx="416.22" cy="280.62" r="1.2" fill="#c8102e"/>
<circle cx="426.65" cy="290.34" r="1.2" fill="#ff9400"/>
<circle cx="419.58" cy="300.65" r="1.2" fill="#ff9400"/>
<circle cx="427.93" cy="284.52" r="1.2" fill="#c8102e"/>
<circle cx="451.86" cy="286.26" r="1.2" fill="#ff9400"/>
<circle cx="433.78" cy="283.61" r="1.2" fill="#ff9400"/>
<circle cx="427.60" cy="290.28" r="1.2" fill="#c8102e"/>
<circle cx="440.76" cy="308.28" r="1.2" fill="#ff9400"/>
<circle cx="439.22" cy="292.66" r="1.2" fill="#ff9400"/>
<circle cx="416.16" cy="288.16" r="1.2" fill="#c8102e"/>
<circle cx="422.77" cy="299.78" r="1.2" fill="#ff9400"/>
<circle cx="429.00" cy="287.20" r="1.2" fill="#c8102e"/>
<circle cx="440.84" cy="310.48" r="1.2" fill="#ff9400"/>
<circle cx="447.41" cy="280.06" r="1.2" fill="#ff9400"/>
<circle cx="421.24" cy="279.01" r="1.2" fill="#34405a"/>
<circle cx="445.52" cy="306.24" r="1.2" fill="#ff9400"/>
<circle cx="419.08" cy="282.60" r="1.2" fill="#3ab54a"/>
<circle cx="438.52" cy="302.82" r="1.2" fill="#29a8e0"/>
<circle cx="447.10" cy="294.09" r="1.2" fill="#ff9400"/>
<circle cx="439.32" cy="309.36" r="1.2" fill="#ff9400"/>
<circle cx="421.21" cy="283.22" r="1.2" fill="#ff9400"/>
<circle cx="439.89" cy="281.32" r="1.2" fill="#ff9400"/>
<circle cx="427.37" cy="291.81" r="1.2" fill="#ff9400"/>
<circle cx="437.43" cy="294.20" r="1.2" fill="#29a8e0"/>
<circle cx="428.36" cy="294.69" r="1.2" fill="#ff9400"/>
<circle cx="437.27" cy="310.70" r="1.2" fill="#ff9400"/>
<circle cx="431.46" cy="301.26" r="1.2" fill="#ff9400"/>
<circle cx="423.78" cy="301.02" r="1.2" fill="#ff9400"/>
<circle cx="426.25" cy="290.16" r="1.2" fill="#29a8e0"/>
<circle cx="434.84" cy="311.01" r="1.2" fill="#ff9400"/>
<circle cx="428.91" cy="304.10" r="1.2" fill="#3ab54a"/>
<circle cx="429.60" cy="295.36" r="1.2" fill="#29a8e0"/>
<circle cx="437.49" cy="310.31" r="1.2" fill="#ff9400"/>
<circle cx="416.82" cy="286.03" r="1.2" fill="#ff9400"/>
<circle cx="431.25" cy="280.98" r="1.2" fill="#29a8e0"/>
<circle cx="430.94" cy="311.92" r="1.2" fill="#ff9400"/>
<circle cx="433.37" cy="309.88" r="1.2" fill="#ff9400"/>
<circle cx="428.06" cy="300.93" r="1.2" fill="#ff9400"/>
<circle cx="426.59" cy="279.09" r="1.2" fill="#ff9400"/>
<circle cx="436.12" cy="310.53" r="1.2" fill="#ff9400"/>
<circle cx="431.64" cy="306.11" r="1.2" fill="#ff9400"/>
<circle cx="428.08" cy="294.62" r="1.2" fill="#34405a"/>
<circle cx="426.70" cy="285.37" r="1.2" fill="#ff9400"/>
<circle cx="421.24" cy="305.79" r="1.2" fill="#29a8e0"/>
<circle cx="421.54" cy="281.07" r="1.2" fill="#29a8e0"/>
<circle cx="432.30" cy="308.65" r="1.2" fill="#ff9400"/>
<circle cx="437.12" cy="310.60" r="1.2" fill="#ff9400"/>
<circle cx="433.06" cy="288.10" r="1.2" fill="#29a8e0"/>
<circle cx="438.57" cy="309.24" r="1.2" fill="#ff9400"/>
<circle cx="450.11" cy="294.68" r="1.2" fill="#ff9400"/>
<circle cx="426.18" cy="287.28" r="1.2" fill="#c8102e"/>
<circle cx="435.31" cy="309.63" r="1.2" fill="#29a8e0"/>
<circle cx="433.47" cy="304.50" r="1.2" fill="#ff9400"/>
<circle cx="427.49" cy="289.55" r="1.2" fill="#ff9400"/>
<circle cx="429.86" cy="303.85" r="1.2" fill="#ff9400"/>
<circle cx="439.76" cy="280.12" r="1.2" fill="#29a8e0"/>
<circle cx="418.54" cy="281.77" r="1.2" fill="#c8102e"/>
<circle cx="426.38" cy="286.73" r="1.2" fill="#c8102e"/>
<circle cx="442.57" cy="301.25" r="1.2" fill="#ff9400"/>
<circle cx="427.48" cy="306.75" r="1.2" fill="#c8102e"/>
<circle cx="442.62" cy="291.31" r="1.2" fill="#ff9400"/>
<circle cx="431.80" cy="292.07" r="1.2" fill="#ff9400"/>
<circle cx="441.14" cy="305.68" r="1.2" fill="#3ab54a"/>
<circle cx="446.58" cy="282.38" r="1.2" fill="#34405a"/>
<circle cx="417.45" cy="280.33" r="1.2" fill="#ff9400"/>
<circle cx="434.91" cy="285.26" r="1.2" fill="#ff9400"/>
<circle cx="432.14" cy="307.58" r="1.2" fill="#3ab54a"/>
<circle cx="449.79" cy="282.49" r="1.2" fill="#ff9400"/>
<circle cx="427.86" cy="286.18" r="1.2" fill="#ff9400"/>
<circle cx="441.98" cy="298.78" r="1.2" fill="#ff9400"/>
<circle cx="423.00" cy="279.38" r="1.2" fill="#ff9400"/>
<circle cx="433.47" cy="285.71" r="1.2" fill="#ff9400"/>
<circle cx="422.70" cy="282.35" r="1.2" fill="#c8102e"/>
<circle cx="433.51" cy="300.09" r="1.2" fill="#ff9400"/>
<circle cx="432.09" cy="288.35" r="1.2" fill="#3ab54a"/>
<circle cx="439.97" cy="289.31" r="1.2" fill="#29a8e0"/>
<circle cx="437.11" cy="311.89" r="1.2" fill="#ff9400"/>
<circle cx="439.82" cy="303.03" r="1.2" fill="#ff9400"/>
<circle cx="432.44" cy="306.07" r="1.2" fill="#0b6b4e"/>
<circle cx="433.61" cy="294.21" r="1.2" fill="#29a8e0"/>
<circle cx="433.48" cy="309.02" r="1.2" fill="#c8102e"/>
<circle cx="443.55" cy="291.24" r="1.2" fill="#ff9400"/>
<circle cx="435.75" cy="309.54" r="1.2" fill="#ff9400"/>
<circle cx="425.25" cy="305.56" r="1.2" fill="#ff9400"/>
<circle cx="433.34" cy="310.12" r="1.2" fill="#ff9400"/>
<circle cx="437.76" cy="309.56" r="1.2" fill="#29a8e0"/>
<circle cx="420.11" cy="284.29" r="1.2" fill="#ff9400"/>
<circle cx="425.64" cy="306.93" r="1.2" fill="#ff9400"/>
<circle cx="438.84" cy="292.19" r="1.2" fill="#ff9400"/>
<circle cx="423.88" cy="283.06" r="1.2" fill="#ff9400"/>
<circle cx="414.65" cy="297.56" r="1.2" fill="#ff9400"/>
<circle cx="432.77" cy="298.78" r="1.2" fill="#c8102e"/>
<circle cx="423.37" cy="289.11" r="1.2" fill="#29a8e0"/>
<circle cx="426.33" cy="293.74" r="1.2" fill="#ff9400"/>
<circle cx="440.56" cy="299.42" r="1.2" fill="#29a8e0"/>
<circle cx="423.47" cy="282.53" r="1.2" fill="#c8102e"/>
<circle cx="429.79" cy="295.84" r="1.2" fill="#c8102e"/>
<circle cx="444.63" cy="281.71" r="1.2" fill="#ff9400"/>
<circle cx="424.27" cy="295.63" r="1.2" fill="#3ab54a"/>
<circle cx="451.84" cy="283.49" r="1.2" fill="#c8102e"/>
<circle cx="436.69" cy="305.89" r="1.2" fill="#34405a"/>
<circle cx="449.15" cy="284.45" r="1.2" fill="#ff9400"/>
<circle cx="417.51" cy="290.58" r="1.2" fill="#34405a"/>
<circle cx="416.89" cy="288.07" r="1.2" fill="#c8102e"/>
<circle cx="432.57" cy="309.36" r="1.2" fill="#ff9400"/>
<circle cx="431.48" cy="295.70" r="1.2" fill="#ff9400"/>
<circle cx="438.21" cy="309.90" r="1.2" fill="#34405a"/>
<circle cx="415.72" cy="284.57" r="1.2" fill="#c8102e"/>
<circle cx="429.09" cy="308.12" r="1.2" fill="#1d5b9a"/>
<circle cx="431.16" cy="299.78" r="1.2" fill="#1d5b9a"/>
<circle cx="426.72" cy="298.05" r="1.2" fill="#29a8e0"/>
<circle cx="428.33" cy="293.60" r="1.2" fill="#29a8e0"/>
<circle cx="441.56" cy="287.37" r="1.2" fill="#3ab54a"/>
<circle cx="440.17" cy="298.33" r="1.2" fill="#ff9400"/>
<circle cx="443.61" cy="283.93" r="1.2" fill="#ff9400"/>
<circle cx="417.09" cy="295.92" r="1.2" fill="#ff9400"/>
<circle cx="427.60" cy="290.79" r="1.2" fill="#c8102e"/>
<circle cx="426.60" cy="298.44" r="1.2" fill="#ff9400"/>
<circle cx="430.08" cy="309.91" r="1.2" fill="#ff9400"/>
<circle cx="448.02" cy="282.16" r="1.2" fill="#ff9400"/>
<circle cx="421.56" cy="287.72" r="1.2" fill="#29a8e0"/>
<circle cx="426.92" cy="297.56" r="1.2" fill="#3ab54a"/>
<circle cx="427.83" cy="303.21" r="1.2" fill="#34405a"/>
<circle cx="442.04" cy="280.45" r="1.2" fill="#ff9400"/>
<circle cx="433.35" cy="304.70" r="1.2" fill="#c8102e"/>
<circle cx="435.02" cy="310.05" r="1.2" fill="#ff9400"/>
<circle cx="421.52" cy="300.17" r="1.2" fill="#ff9400"/>
<circle cx="432.17" cy="288.91" r="1.2" fill="#0b6b4e"/>
<circle cx="445.56" cy="304.84" r="1.2" fill="#c8102e"/>
<circle cx="441.39" cy="294.35" r="1.2" fill="#ff9400"/>
<circle cx="426.36" cy="286.46" r="1.2" fill="#ff9400"/>
<circle cx="440.04" cy="303.74" r="1.2" fill="#29a8e0"/>
<circle cx="427.01" cy="302.49" r="1.2" fill="#29a8e0"/>
<circle cx="427.76" cy="296.27" r="1.2" fill="#29a8e0"/>
<circle cx="434.07" cy="310.85" r="1.2" fill="#ff9400"/>
<circle cx="442.37" cy="286.79" r="1.2" fill="#0b6b4e"/>
<circle cx="435.77" cy="308.95" r="1.2" fill="#c8102e"/>
<circle cx="431.96" cy="300.95" r="1.2" fill="#29a8e0"/>
<circle cx="431.05" cy="302.02" r="1.2" fill="#29a8e0"/>
<circle cx="430.97" cy="297.82" r="1.2" fill="#ff9400"/>
<circle cx="438.44" cy="309.06" r="1.2" fill="#ff9400"/>
<circle cx="425.14" cy="282.52" r="1.2" fill="#ff9400"/>
<circle cx="422.28" cy="279.95" r="1.2" fill="#29a8e0"/>
<circle cx="425.99" cy="303.31" r="1.2" fill="#c8102e"/>
<circle cx="444.60" cy="290.99" r="1.2" fill="#34405a"/>
<circle cx="448.49" cy="281.18" r="1.2" fill="#0b6b4e"/>
<circle cx="425.87" cy="282.53" r="1.2" fill="#0b6b4e"/>
<circle cx="439.20" cy="305.80" r="1.2" fill="#29a8e0"/>
<circle cx="431.72" cy="299.84" r="1.2" fill="#29a8e0"/>
<circle cx="427.10" cy="285.76" r="1.2" fill="#c8102e"/>
<circle cx="422.92" cy="279.69" r="1.2" fill="#ff9400"/>
<circle cx="431.65" cy="289.59" r="1.2" fill="#0b6b4e"/>
<circle cx="425.22" cy="293.40" r="1.2" fill="#29a8e0"/>
<circle cx="430.46" cy="296.75" r="1.2" fill="#29a8e0"/>
<circle cx="424.36" cy="284.62" r="1.2" fill="#ff9400"/>
<circle cx="418.91" cy="304.15" r="1.2" fill="#c8102e"/>
<circle cx="428.20" cy="305.29" r="1.2" fill="#29a8e0"/>
<circle cx="422.63" cy="287.60" r="1.2" fill="#ff9400"/>
<circle cx="439.53" cy="302.08" r="1.2" fill="#ff9400"/>
<circle cx="431.76" cy="300.01" r="1.2" fill="#29a8e0"/>
<circle cx="424.21" cy="299.72" r="1.2" fill="#ff9400"/>
<circle cx="414.53" cy="292.02" r="1.2" fill="#ff9400"/>
<circle cx="429.88" cy="285.80" r="1.2" fill="#ff9400"/>
<circle cx="430.01" cy="308.17" r="1.2" fill="#c8102e"/>
<circle cx="442.20" cy="296.54" r="1.2" fill="#ff9400"/>
<circle cx="431.76" cy="290.50" r="1.2" fill="#29a8e0"/>
<circle cx="437.72" cy="303.49" r="1.2" fill="#ff9400"/>
<circle cx="441.62" cy="304.52" r="1.2" fill="#29a8e0"/>
<circle cx="429.53" cy="286.85" r="1.2" fill="#ff9400"/>
<circle cx="422.06" cy="302.20" r="1.2" fill="#ff9400"/>
<circle cx="424.10" cy="287.17" r="1.2" fill="#ff9400"/>
<circle cx="440.88" cy="285.25" r="1.2" fill="#ff9400"/>
<circle cx="433.20" cy="310.76" r="1.2" fill="#ff9400"/>
<circle cx="437.89" cy="311.47" r="1.2" fill="#ff9400"/>
<circle cx="444.94" cy="285.47" r="1.2" fill="#ff9400"/>
<circle cx="426.03" cy="280.12" r="1.2" fill="#29a8e0"/>
<circle cx="426.68" cy="298.92" r="1.2" fill="#29a8e0"/>
<circle cx="427.04" cy="308.96" r="1.2" fill="#c8102e"/>
<circle cx="440.23" cy="286.54" r="1.2" fill="#29a8e0"/>
<circle cx="442.05" cy="304.54" r="1.2" fill="#ff9400"/>
<circle cx="423.67" cy="293.98" r="1.2" fill="#c8102e"/>
<circle cx="426.25" cy="282.23" r="1.2" fill="#c8102e"/>
<circle cx="420.28" cy="287.25" r="1.2" fill="#c8102e"/>
<circle cx="425.98" cy="299.51" r="1.2" fill="#ff9400"/>
<circle cx="429.14" cy="300.60" r="1.2" fill="#c8102e"/>
<circle cx="425.42" cy="311.16" r="1.2" fill="#ff9400"/>
<circle cx="439.47" cy="297.96" r="1.2" fill="#ff9400"/>
<circle cx="434.38" cy="306.36" r="1.2" fill="#ff9400"/>
<circle cx="431.78" cy="310.28" r="1.2" fill="#29a8e0"/>
<circle cx="425.57" cy="283.04" r="1.2" fill="#ff9400"/>
<circle cx="423.06" cy="288.05" r="1.2" fill="#ff9400"/>
<circle cx="426.95" cy="292.81" r="1.2" fill="#ff9400"/>
<circle cx="439.78" cy="286.41" r="1.2" fill="#0b6b4e"/>
<circle cx="430.49" cy="296.39" r="1.2" fill="#ff9400"/>
<circle cx="444.19" cy="283.27" r="1.2" fill="#ff9400"/>
<circle cx="437.78" cy="294.48" r="1.2" fill="#ff9400"/>
<circle cx="428.79" cy="310.81" r="1.2" fill="#29a8e0"/>
<circle cx="422.97" cy="294.45" r="1.2" fill="#c8102e"/>
<circle cx="425.54" cy="283.13" r="1.2" fill="#0b6b4e"/>
<circle cx="426.55" cy="287.83" r="1.2" fill="#ff9400"/>
<circle cx="448.17" cy="279.09" r="1.2" fill="#ff9400"/>
<circle cx="422.23" cy="287.08" r="1.2" fill="#c8102e"/>
<circle cx="431.07" cy="300.76" r="1.2" fill="#34405a"/>
<circle cx="436.55" cy="307.20" r="1.2" fill="#29a8e0"/>
<circle cx="437.89" cy="279.38" r="1.2" fill="#ff9400"/>
<circle cx="417.33" cy="282.35" r="1.2" fill="#ff9400"/>
<circle cx="442.71" cy="301.06" r="1.2" fill="#29a8e0"/>
<circle cx="449.27" cy="285.51" r="1.2" fill="#ff9400"/>
<circle cx="422.90" cy="286.73" r="1.2" fill="#c8102e"/>
<circle cx="446.58" cy="280.93" r="1.2" fill="#ff9400"/>
<circle cx="412.79" cy="296.80" r="1.2" fill="#c8102e"/>
<circle cx="443.62" cy="297.56" r="1.2" fill="#29a8e0"/>
<circle cx="429.25" cy="291.37" r="1.2" fill="#c8102e"/>
<circle cx="429.91" cy="299.99" r="1.2" fill="#c8102e"/>
<circle cx="427.45" cy="301.53" r="1.2" fill="#1d5b9a"/>
<circle cx="441.53" cy="295.85" r="1.2" fill="#c8102e"/>
<circle cx="429.56" cy="299.63" r="1.2" fill="#0b6b4e"/>
<circle cx="427.21" cy="293.36" r="1.2" fill="#c8102e"/>
<circle cx="434.09" cy="306.28" r="1.2" fill="#c8102e"/>
<circle cx="439.38" cy="287.97" r="1.2" fill="#3ab54a"/>
<circle cx="427.15" cy="300.60" r="1.2" fill="#ff9400"/>
<circle cx="436.72" cy="310.17" r="1.2" fill="#ff9400"/>
<circle cx="432.79" cy="315.31" r="1.2" fill="#ff9400"/>
<circle cx="435.69" cy="316.39" r="1.2" fill="#29a8e0"/>
<circle cx="428.54" cy="310.18" r="1.2" fill="#29a8e0"/>
<circle cx="435.89" cy="316.77" r="1.2" fill="#ff9400"/>
<circle cx="437.88" cy="315.36" r="1.2" fill="#ff9400"/>
<circle cx="436.61" cy="313.54" r="1.2" fill="#ff9400"/>
<circle cx="437.14" cy="313.32" r="1.2" fill="#29a8e0"/>
<circle cx="435.17" cy="314.07" r="1.2" fill="#ff9400"/>
<circle cx="429.93" cy="308.07" r="1.2" fill="#29a8e0"/>
<circle cx="438.01" cy="315.21" r="1.2" fill="#ff9400"/>
<circle cx="439.68" cy="310.91" r="1.2" fill="#ff9400"/>
<circle cx="433.16" cy="312.96" r="1.2" fill="#29a8e0"/>
<circle cx="433.31" cy="311.47" r="1.2" fill="#29a8e0"/>
<circle cx="439.11" cy="313.80" r="1.2" fill="#29a8e0"/>
<circle cx="431.09" cy="313.02" r="1.2" fill="#29a8e0"/>
<circle cx="435.91" cy="315.59" r="1.2" fill="#c8102e"/>
<circle cx="429.85" cy="311.73" r="1.2" fill="#29a8e0"/>
<circle cx="439.51" cy="313.27" r="1.2" fill="#34405a"/>
<circle cx="434.52" cy="312.04" r="1.2" fill="#29a8e0"/>
<circle cx="433.12" cy="313.83" r="1.2" fill="#29a8e0"/>
<circle cx="426.12" cy="307.16" r="1.2" fill="#ff9400"/>
<circle cx="443.49" cy="308.29" r="1.2" fill="#29a8e0"/>
<circle cx="433.85" cy="316.22" r="1.2" fill="#29a8e0"/>
<circle cx="433.70" cy="314.63" r="1.2" fill="#ff9400"/>
<circle cx="428.29" cy="308.99" r="1.2" fill="#ff9400"/>
<circle cx="438.02" cy="314.56" r="1.2" fill="#ff9400"/>
<circle cx="437.79" cy="307.89" r="1.2" fill="#ff9400"/>
<circle cx="440.42" cy="311.88" r="1.2" fill="#29a8e0"/>
<circle cx="436.12" cy="317.22" r="1.2" fill="#29a8e0"/>
<circle cx="438.36" cy="307.16" r="1.2" fill="#ff9400"/>
<circle cx="432.13" cy="307.84" r="1.2" fill="#ff9400"/>
<circle cx="441.41" cy="308.76" r="1.2" fill="#29a8e0"/>
<circle cx="433.09" cy="307.63" r="1.2" fill="#ff9400"/>
<circle cx="437.58" cy="311.65" r="1.2" fill="#29a8e0"/>
<circle cx="434.72" cy="315.45" r="1.2" fill="#ff9400"/>
<circle cx="434.80" cy="313.67" r="1.2" fill="#29a8e0"/>
<circle cx="438.11" cy="315.33" r="1.2" fill="#ff9400"/>
<circle cx="433.51" cy="313.01" r="1.2" fill="#29a8e0"/>
<circle cx="436.05" cy="317.32" r="1.2" fill="#ff9400"/>
<circle cx="436.94" cy="310.52" r="1.2" fill="#0b6b4e"/>
<circle cx="436.02" cy="315.81" r="1.2" fill="#29a8e0"/>
<circle cx="440.13" cy="311.54" r="1.2" fill="#29a8e0"/>
<circle cx="436.27" cy="314.26" r="1.2" fill="#c8102e"/>
<circle cx="434.31" cy="315.56" r="1.2" fill="#29a8e0"/>
<circle cx="434.36" cy="309.79" r="1.2" fill="#ff9400"/>
<circle cx="437.58" cy="315.65" r="1.2" fill="#29a8e0"/>
<circle cx="437.08" cy="315.83" r="1.2" fill="#c8102e"/>
<circle cx="433.35" cy="313.06" r="1.2" fill="#c8102e"/>
<circle cx="436.52" cy="315.55" r="1.2" fill="#c8102e"/>
<circle cx="429.97" cy="310.68" r="1.2" fill="#29a8e0"/>
<circle cx="433.80" cy="315.45" r="1.2" fill="#ff9400"/>
<circle cx="434.60" cy="316.88" r="1.2" fill="#ff9400"/>
<circle cx="435.23" cy="314.18" r="1.2" fill="#29a8e0"/>
<circle cx="439.24" cy="309.70" r="1.2" fill="#ff9400"/>
<circle cx="430.80" cy="311.87" r="1.2" fill="#ff9400"/>
<circle cx="433.87" cy="315.18" r="1.2" fill="#ff9400"/>
<circle cx="437.04" cy="316.51" r="1.2" fill="#29a8e0"/>
<circle cx="436.49" cy="312.05" r="1.2" fill="#29a8e0"/>
<circle cx="430.41" cy="309.04" r="1.2" fill="#ff9400"/>
<circle cx="386.20" cy="245.30" r="1.2" fill="#c8102e"/>
<circle cx="482.60" cy="288.40" r="1.2" fill="#c8102e"/>
<line x1="435.5" y1="7.1" x2="435.5" y2="329.6" stroke="#111" stroke-width="1.15" stroke-dasharray="2.4,1.678"/>
<line x1="292.45" y1="268.0" x2="511.6" y2="268.0" stroke="#111" stroke-width="1.25" stroke-dasharray="2.2,1.983"/>
<line x1="292.45" y1="279.25" x2="511.6" y2="279.25" stroke="#111" stroke-width="1.25" stroke-dasharray="2.2,1.983"/>
<line x1="395.80" y1="259.00" x2="414.50" y2="268.60" stroke="#1a1a1a" stroke-width="0.8"/>
<line x1="377.50" y1="273.40" x2="415.50" y2="268.90" stroke="#1a1a1a" stroke-width="0.8"/>
<line x1="392.30" y1="284.40" x2="413.20" y2="274.90" stroke="#1a1a1a" stroke-width="0.8"/>
<text x="206.10" y="376.10" font-size="8.3" fill="#2f4ea3" textLength="24.20" lengthAdjust="spacingAndGlyphs">M2686</text>
<text x="185.60" y="385.70" font-size="8.3" fill="#2f4ea3" textLength="24.20" lengthAdjust="spacingAndGlyphs">M2713</text>
<text x="153.60" y="399.80" font-size="8.3" fill="#2f4ea3" textLength="24.00" lengthAdjust="spacingAndGlyphs">M2715</text>
<text x="134.50" y="414.00" font-size="8.3" fill="#2f4ea3" textLength="23.60" lengthAdjust="spacingAndGlyphs">M2662</text>
<text x="125.80" y="423.30" font-size="8.3" fill="#2f4ea3" textLength="23.60" lengthAdjust="spacingAndGlyphs">M2611</text>
<text x="169.30" y="417.70" font-size="8.3" fill="#2f4ea3" textLength="24.00" lengthAdjust="spacingAndGlyphs">M2671</text>
<text x="143.80" y="444.00" font-size="8.3" fill="#2f4ea3" textLength="24.20" lengthAdjust="spacingAndGlyphs">M2603</text>
<text x="134.50" y="490.30" font-size="8.3" fill="#2f4ea3" textLength="24.20" lengthAdjust="spacingAndGlyphs">M2618</text>
<text x="172.00" y="508.30" font-size="8.3" fill="#2f4ea3" textLength="24.20" lengthAdjust="spacingAndGlyphs">M2649</text>
<text x="213.50" y="507.10" font-size="8.3" fill="#2f4ea3" textLength="23.60" lengthAdjust="spacingAndGlyphs">M2601</text>
<text x="246.30" y="507.80" font-size="8.3" fill="#2f4ea3" textLength="24.20" lengthAdjust="spacingAndGlyphs">M2616</text>
<text x="246.30" y="482.50" font-size="8.3" fill="#2f4ea3" textLength="24.20" lengthAdjust="spacingAndGlyphs">M2602</text>
<text x="285.00" y="446.30" font-size="8.3" fill="#2f4ea3" textLength="23.80" lengthAdjust="spacingAndGlyphs">M2613</text>
<text x="237.50" y="444.50" font-size="8.3" fill="#2f4ea3" textLength="23.30" lengthAdjust="spacingAndGlyphs">M2801</text>
<text x="275.00" y="405.70" font-size="8.3" fill="#2f4ea3" textLength="24.20" lengthAdjust="spacingAndGlyphs">M2670</text>
<text x="293.80" y="415.30" font-size="8.3" fill="#2f4ea3" textLength="25.00" lengthAdjust="spacingAndGlyphs">M2708</text>
<text x="245.00" y="393.60" font-size="8.3" fill="#2f4ea3" textLength="24.40" lengthAdjust="spacingAndGlyphs">M2635</text>
<text x="211.10" y="406.10" font-size="8.3" fill="#2f4ea3" textLength="24.00" lengthAdjust="spacingAndGlyphs">M2600</text>
<text x="233.80" y="384.20" font-size="8.3" fill="#2f4ea3" textLength="24.00" lengthAdjust="spacingAndGlyphs">M2673</text>
<text x="311.30" y="425.00" font-size="8.3" fill="#2f4ea3" textLength="24.20" lengthAdjust="spacingAndGlyphs">M2810</text>
<text x="314.50" y="457.70" font-size="8.3" fill="#2f4ea3" textLength="23.50" lengthAdjust="spacingAndGlyphs">M2814</text>
<text x="333.00" y="469.50" font-size="8.3" fill="#2f4ea3" textLength="24.00" lengthAdjust="spacingAndGlyphs">M2804</text>
<text x="335.50" y="493.30" font-size="8.3" fill="#2f4ea3" textLength="24.00" lengthAdjust="spacingAndGlyphs">M2813</text>
<text x="331.80" y="527.70" font-size="8.3" fill="#2f4ea3" textLength="23.80" lengthAdjust="spacingAndGlyphs">M2809</text>
<text x="277.50" y="545.70" font-size="8.3" fill="#2f4ea3" textLength="24.50" lengthAdjust="spacingAndGlyphs">M2818</text>
<text x="98.80" y="457.00" font-size="8.3" fill="#2f4ea3" textLength="20.00" lengthAdjust="spacingAndGlyphs">M639</text>
<text x="98.80" y="480.00" font-size="8.3" fill="#2f4ea3" textLength="20.40" lengthAdjust="spacingAndGlyphs">M646</text>
<text x="84.30" y="493.70" font-size="8.3" fill="#2f4ea3" textLength="20.00" lengthAdjust="spacingAndGlyphs">M640</text>
<text x="78.20" y="510.20" font-size="8.3" fill="#2f4ea3" textLength="19.50" lengthAdjust="spacingAndGlyphs">M648</text>
<text x="90.20" y="529.10" font-size="8.3" fill="#2f4ea3" textLength="19.70" lengthAdjust="spacingAndGlyphs">M632</text>
<text x="87.60" y="561.60" font-size="8.3" fill="#2f4ea3" textLength="19.50" lengthAdjust="spacingAndGlyphs">M636</text>
<text x="90.70" y="584.30" font-size="8.3" fill="#2f4ea3" textLength="19.60" lengthAdjust="spacingAndGlyphs">M637</text>
<text x="106.70" y="598.90" font-size="8.3" fill="#2f4ea3" textLength="19.50" lengthAdjust="spacingAndGlyphs">M649</text>
<text x="152.00" y="590.20" font-size="8.3" fill="#2f4ea3" textLength="19.80" lengthAdjust="spacingAndGlyphs">M644</text>
<text x="184.50" y="557.30" font-size="8.3" fill="#2f4ea3" textLength="19.90" lengthAdjust="spacingAndGlyphs">M635</text>
<text x="173.00" y="477.70" font-size="8.3" fill="#2f4ea3" textLength="19.50" lengthAdjust="spacingAndGlyphs">M641</text>
<text x="125.60" y="566.30" font-size="8.3" fill="#ec1c24" textLength="24.20" lengthAdjust="spacingAndGlyphs">M5386</text>
<text x="218.80" y="571.20" font-size="8.3" fill="#ec1c24" textLength="23.80" lengthAdjust="spacingAndGlyphs">M5379</text>
<text x="246.00" y="605.00" font-size="8.3" fill="#ec1c24" textLength="23.60" lengthAdjust="spacingAndGlyphs">M5378</text>
<text x="103.30" y="620.00" font-size="8.3" fill="#ec1c24" textLength="24.20" lengthAdjust="spacingAndGlyphs">M5380</text>
<text x="128.80" y="629.40" font-size="8.3" fill="#ec1c24" textLength="24.20" lengthAdjust="spacingAndGlyphs">M5374</text>
<text x="146.30" y="642.00" font-size="8.3" fill="#ec1c24" textLength="23.80" lengthAdjust="spacingAndGlyphs">M5381</text>
<text x="165.50" y="651.30" font-size="8.3" fill="#ec1c24" textLength="23.80" lengthAdjust="spacingAndGlyphs">M5382</text>
<text x="185.50" y="665.70" font-size="8.3" fill="#ec1c24" textLength="24.00" lengthAdjust="spacingAndGlyphs">M5377</text>
<text x="215.80" y="669.90" font-size="8.3" fill="#ec1c24" textLength="24.20" lengthAdjust="spacingAndGlyphs">M5376</text>
<text x="298.80" y="530.80" font-size="8.3" fill="#2f4ea3" textLength="19.30" lengthAdjust="spacingAndGlyphs">M491</text>
<text x="323.00" y="552.70" font-size="8.3" fill="#2f4ea3" textLength="20.00" lengthAdjust="spacingAndGlyphs">M493</text>
<text x="336.30" y="568.30" font-size="8.3" fill="#2f4ea3" textLength="19.50" lengthAdjust="spacingAndGlyphs">M494</text>
<text x="304.50" y="580.30" font-size="8.3" fill="#2f4ea3" textLength="19.60" lengthAdjust="spacingAndGlyphs">M513</text>
<text x="322.50" y="597.00" font-size="8.3" fill="#2f4ea3" textLength="19.30" lengthAdjust="spacingAndGlyphs">M504</text>
<text x="297.50" y="623.90" font-size="8.3" fill="#2f4ea3" textLength="19.50" lengthAdjust="spacingAndGlyphs">M485</text>
<text x="288.80" y="633.70" font-size="8.3" fill="#1f3a8a" textLength="20.00" lengthAdjust="spacingAndGlyphs" font-weight="bold">M499</text>
<text x="264.50" y="650.80" font-size="8.3" fill="#2f4ea3" textLength="20.00" lengthAdjust="spacingAndGlyphs">M492</text>
<text x="246.30" y="663.80" font-size="8.3" fill="#2f4ea3" textLength="20.00" lengthAdjust="spacingAndGlyphs">M510</text>
<text x="237.00" y="641.30" font-size="8.3" fill="#2f4ea3" textLength="19.30" lengthAdjust="spacingAndGlyphs">M495</text>
<text x="204.40" y="623.60" font-size="8.3" fill="#2f4ea3" textLength="19.80" lengthAdjust="spacingAndGlyphs">M505</text>
<line x1="214.80" y1="443.90" x2="212.00" y2="378.30" stroke="#bdbdbd" stroke-width="1.0"/>
<line x1="214.80" y1="443.90" x2="191.75" y2="388.20" stroke="#bdbdbd" stroke-width="1.0"/>
<line x1="214.80" y1="443.90" x2="169.80" y2="391.10" stroke="#bdbdbd" stroke-width="1.0"/>
<line x1="214.80" y1="443.90" x2="149.25" y2="406.25" stroke="#bdbdbd" stroke-width="1.0"/>
<line x1="214.80" y1="443.90" x2="132.50" y2="425.00" stroke="#bdbdbd" stroke-width="1.0"/>
<line x1="214.80" y1="443.90" x2="175.50" y2="420.50" stroke="#bdbdbd" stroke-width="1.0"/>
<line x1="214.80" y1="443.90" x2="150.00" y2="446.75" stroke="#bdbdbd" stroke-width="1.0"/>
<line x1="214.80" y1="443.90" x2="150.50" y2="482.00" stroke="#bdbdbd" stroke-width="1.0"/>
<line x1="214.80" y1="443.90" x2="184.25" y2="511.75" stroke="#bdbdbd" stroke-width="1.0"/>
<line x1="214.80" y1="443.90" x2="220.00" y2="510.00" stroke="#bdbdbd" stroke-width="1.0"/>
<line x1="214.80" y1="443.90" x2="252.50" y2="510.60" stroke="#bdbdbd" stroke-width="1.0"/>
<line x1="214.80" y1="443.90" x2="262.00" y2="474.30" stroke="#bdbdbd" stroke-width="1.0"/>
<line x1="214.80" y1="443.90" x2="291.25" y2="448.75" stroke="#bdbdbd" stroke-width="1.0"/>
<line x1="214.80" y1="443.90" x2="253.00" y2="436.30" stroke="#bdbdbd" stroke-width="1.0"/>
<line x1="295.40" y1="489.30" x2="253.00" y2="436.30" stroke="#bdbdbd" stroke-width="1.0"/>
<line x1="214.80" y1="443.90" x2="281.25" y2="397.50" stroke="#bdbdbd" stroke-width="1.0"/>
<line x1="214.80" y1="443.90" x2="291.25" y2="417.50" stroke="#bdbdbd" stroke-width="1.0"/>
<line x1="214.80" y1="443.90" x2="260.60" y2="396.00" stroke="#bdbdbd" stroke-width="1.0"/>
<line x1="214.80" y1="443.90" x2="226.25" y2="397.80" stroke="#bdbdbd" stroke-width="1.0"/>
<line x1="214.80" y1="443.90" x2="244.00" y2="380.10" stroke="#bdbdbd" stroke-width="1.0"/>
<line x1="295.40" y1="489.30" x2="317.50" y2="427.50" stroke="#bdbdbd" stroke-width="1.0"/>
<line x1="295.40" y1="489.30" x2="330.00" y2="449.80" stroke="#bdbdbd" stroke-width="1.0"/>
<line x1="295.40" y1="489.30" x2="339.50" y2="472.00" stroke="#bdbdbd" stroke-width="1.0"/>
<line x1="295.40" y1="489.30" x2="344.50" y2="495.50" stroke="#bdbdbd" stroke-width="1.0"/>
<line x1="295.40" y1="489.30" x2="347.50" y2="519.50" stroke="#bdbdbd" stroke-width="1.0"/>
<line x1="295.40" y1="489.30" x2="284.25" y2="548.25" stroke="#bdbdbd" stroke-width="1.0"/>
<line x1="142.85" y1="522.80" x2="112.50" y2="448.75" stroke="#bdbdbd" stroke-width="1.0"/>
<line x1="142.85" y1="522.80" x2="112.50" y2="471.75" stroke="#bdbdbd" stroke-width="1.0"/>
<line x1="142.85" y1="522.80" x2="97.00" y2="485.50" stroke="#bdbdbd" stroke-width="1.0"/>
<line x1="142.85" y1="522.80" x2="98.90" y2="509.10" stroke="#bdbdbd" stroke-width="1.0"/>
<line x1="142.85" y1="522.80" x2="94.50" y2="531.60" stroke="#bdbdbd" stroke-width="1.0"/>
<line x1="142.85" y1="522.80" x2="101.10" y2="553.20" stroke="#bdbdbd" stroke-width="1.0"/>
<line x1="142.85" y1="522.80" x2="104.20" y2="576.20" stroke="#bdbdbd" stroke-width="1.0"/>
<line x1="142.85" y1="522.80" x2="120.10" y2="590.70" stroke="#bdbdbd" stroke-width="1.0"/>
<line x1="142.85" y1="522.80" x2="156.25" y2="592.50" stroke="#bdbdbd" stroke-width="1.0"/>
<line x1="142.85" y1="522.80" x2="188.75" y2="559.70" stroke="#bdbdbd" stroke-width="1.0"/>
<line x1="142.85" y1="522.80" x2="187.00" y2="469.50" stroke="#bdbdbd" stroke-width="1.0"/>
<line x1="190.00" y1="599.70" x2="141.25" y2="558.10" stroke="#bdbdbd" stroke-width="1.0"/>
<line x1="190.00" y1="599.70" x2="234.25" y2="563.00" stroke="#bdbdbd" stroke-width="1.0"/>
<line x1="190.00" y1="599.70" x2="251.90" y2="607.40" stroke="#bdbdbd" stroke-width="1.0"/>
<line x1="190.00" y1="599.70" x2="128.75" y2="616.30" stroke="#bdbdbd" stroke-width="1.0"/>
<line x1="190.00" y1="599.70" x2="144.50" y2="632.00" stroke="#bdbdbd" stroke-width="1.0"/>
<line x1="190.00" y1="599.70" x2="162.00" y2="644.50" stroke="#bdbdbd" stroke-width="1.0"/>
<line x1="190.00" y1="599.70" x2="181.25" y2="654.30" stroke="#bdbdbd" stroke-width="1.0"/>
<line x1="190.00" y1="599.70" x2="201.25" y2="657.50" stroke="#bdbdbd" stroke-width="1.0"/>
<line x1="190.00" y1="599.70" x2="222.00" y2="662.00" stroke="#bdbdbd" stroke-width="1.0"/>
<line x1="274.40" y1="583.10" x2="312.50" y2="523.00" stroke="#bdbdbd" stroke-width="1.0"/>
<line x1="274.40" y1="583.10" x2="336.75" y2="544.50" stroke="#bdbdbd" stroke-width="1.0"/>
<line x1="274.40" y1="583.10" x2="340.50" y2="570.75" stroke="#bdbdbd" stroke-width="1.0"/>
<line x1="274.40" y1="583.10" x2="318.00" y2="572.00" stroke="#bdbdbd" stroke-width="1.0"/>
<line x1="274.40" y1="583.10" x2="326.25" y2="599.50" stroke="#bdbdbd" stroke-width="1.0"/>
<line x1="274.40" y1="583.10" x2="311.00" y2="616.25" stroke="#bdbdbd" stroke-width="1.0"/>
<line x1="274.40" y1="583.10" x2="296.50" y2="633.00" stroke="#bdbdbd" stroke-width="1.0"/>
<line x1="274.40" y1="583.10" x2="278.10" y2="642.20" stroke="#bdbdbd" stroke-width="1.0"/>
<line x1="274.40" y1="583.10" x2="260.00" y2="655.75" stroke="#bdbdbd" stroke-width="1.0"/>
<line x1="274.40" y1="583.10" x2="240.75" y2="643.75" stroke="#bdbdbd" stroke-width="1.0"/>
<line x1="274.40" y1="583.10" x2="217.80" y2="615.50" stroke="#bdbdbd" stroke-width="1.0"/>
<circle cx="212.00" cy="378.30" r="1.55" fill="#f2694c"/>
<circle cx="191.75" cy="388.20" r="1.55" fill="#f8b39d"/>
<circle cx="169.80" cy="391.10" r="1.55" fill="#fbd0c0"/>
<circle cx="149.25" cy="406.25" r="1.55" fill="#f8b39d"/>
<circle cx="132.50" cy="425.00" r="1.55" fill="#27323f"/>
<circle cx="175.50" cy="420.50" r="1.55" fill="#f2694c"/>
<circle cx="150.00" cy="446.75" r="1.55" fill="#27323f"/>
<circle cx="150.50" cy="482.00" r="1.55" fill="#27323f"/>
<circle cx="184.25" cy="511.75" r="1.55" fill="#f2694c"/>
<circle cx="220.00" cy="510.00" r="2.0" fill="#e3121b"/>
<circle cx="252.50" cy="510.60" r="1.55" fill="#f2694c"/>
<circle cx="262.00" cy="474.30" r="1.55" fill="#f2694c"/>
<circle cx="291.25" cy="448.75" r="1.55" fill="#27323f"/>
<circle cx="253.00" cy="436.30" r="1.55" fill="#f2694c"/>
<circle cx="281.25" cy="397.50" r="1.55" fill="#fbd0c0"/>
<circle cx="291.25" cy="417.50" r="1.55" fill="#f2694c"/>
<circle cx="260.60" cy="396.00" r="1.55" fill="#f2694c"/>
<circle cx="226.25" cy="397.80" r="1.55" fill="#27323f"/>
<circle cx="244.00" cy="380.10" r="1.55" fill="#27323f"/>
<circle cx="317.50" cy="427.50" r="1.55" fill="#f8b39d"/>
<circle cx="330.00" cy="449.80" r="1.55" fill="#fbd0c0"/>
<circle cx="339.50" cy="472.00" r="1.55" fill="#f2694c"/>
<circle cx="344.50" cy="495.50" r="1.55" fill="#f8b39d"/>
<circle cx="347.50" cy="519.50" r="1.55" fill="#f8b39d"/>
<circle cx="284.25" cy="548.25" r="1.55" fill="#f2694c"/>
<circle cx="112.50" cy="448.75" r="1.55" fill="#fbd0c0"/>
<circle cx="112.50" cy="471.75" r="1.55" fill="#f8b39d"/>
<circle cx="97.00" cy="485.50" r="1.55" fill="#ec3a22"/>
<circle cx="98.90" cy="509.10" r="1.55" fill="#fbd0c0"/>
<circle cx="94.50" cy="531.60" r="1.55" fill="#f8b39d"/>
<circle cx="101.10" cy="553.20" r="1.55" fill="#f8b39d"/>
<circle cx="104.20" cy="576.20" r="1.55" fill="#f8b39d"/>
<circle cx="120.10" cy="590.70" r="1.55" fill="#ec3a22"/>
<circle cx="156.25" cy="592.50" r="1.55" fill="#ec3a22"/>
<circle cx="188.75" cy="559.70" r="1.55" fill="#f2694c"/>
<circle cx="187.00" cy="469.50" r="1.55" fill="#f8b39d"/>
<circle cx="141.25" cy="558.10" r="1.55" fill="#fbd0c0"/>
<circle cx="234.25" cy="563.00" r="1.55" fill="#fbd0c0"/>
<circle cx="251.90" cy="607.40" r="1.55" fill="#fbd0c0"/>
<circle cx="128.75" cy="616.30" r="1.55" fill="#fbd0c0"/>
<circle cx="144.50" cy="632.00" r="1.55" fill="#f8b39d"/>
<circle cx="162.00" cy="644.50" r="1.55" fill="#fbd0c0"/>
<circle cx="181.25" cy="654.30" r="1.55" fill="#f2694c"/>
<circle cx="201.25" cy="657.50" r="1.55" fill="#f8b39d"/>
<circle cx="222.00" cy="662.00" r="1.55" fill="#f8b39d"/>
<circle cx="312.50" cy="523.00" r="1.55" fill="#fbd0c0"/>
<circle cx="336.75" cy="544.50" r="1.55" fill="#f2694c"/>
<circle cx="340.50" cy="570.75" r="1.55" fill="#fbd0c0"/>
<circle cx="318.00" cy="572.00" r="1.55" fill="#fbd0c0"/>
<circle cx="326.25" cy="599.50" r="1.55" fill="#f2694c"/>
<circle cx="311.00" cy="616.25" r="1.55" fill="#fbd0c0"/>
<circle cx="296.50" cy="633.00" r="1.55" fill="#f8b39d"/>
<circle cx="278.10" cy="642.20" r="1.55" fill="#27323f"/>
<circle cx="260.00" cy="655.75" r="1.55" fill="#f8b39d"/>
<circle cx="240.75" cy="643.75" r="1.55" fill="#f2694c"/>
<circle cx="217.80" cy="615.50" r="1.55" fill="#fbd0c0"/>
<circle cx="214.80" cy="443.90" r="3.1" fill="#29a8e0"/>
<circle cx="295.40" cy="489.30" r="1.8" fill="#29a8e0"/>
<circle cx="142.85" cy="522.80" r="2.5" fill="#29a8e0"/>
<circle cx="190.00" cy="599.70" r="2.5" fill="#29a8e0"/>
<circle cx="274.40" cy="583.10" r="2.7" fill="#29a8e0"/>
<text x="192.00" y="452.80" font-size="7.9" fill="#1f1f1f" textLength="57.30" lengthAdjust="spacingAndGlyphs" font-style="italic">Lysophospholipid</text>
<text x="278.80" y="487.10" font-size="7.9" fill="#1f1f1f" textLength="43.00" lengthAdjust="spacingAndGlyphs" font-style="italic">Plasmalogen</text>
<text x="98.90" y="520.40" font-size="7.9" fill="#1f1f1f" textLength="99.40" lengthAdjust="spacingAndGlyphs" font-style="italic">Gamma−glutamyl Amino Acid</text>
<text x="133.80" y="608.00" font-size="7.9" fill="#1f1f1f" textLength="100.50" lengthAdjust="spacingAndGlyphs" font-style="italic">Drug−Analgesics, Anesthetics</text>
<text x="196.50" y="591.00" font-size="7.9" fill="#1f1f1f" textLength="147.80" lengthAdjust="spacingAndGlyphs" font-style="italic">Urea cycle; Arginine and Proline Metabolism</text>
<defs><linearGradient id="cg" x1="0" y1="0" x2="0" y2="1"><stop offset="0" stop-color="#e8261e"/><stop offset="0.5" stop-color="#f5836a"/><stop offset="1" stop-color="#fde3db"/></linearGradient></defs>
<rect x="367.5" y="413.3" width="9.3" height="44.2" fill="url(#cg)"/>
<text x="367.50" y="400.00" font-size="7.3" fill="#333333" textLength="100.00" lengthAdjust="spacingAndGlyphs">Color code for metabolite circles</text>
<text x="367.5" y="407.4" font-size="7.3" fill="#231f20" textLength="45.5" lengthAdjust="spacingAndGlyphs">-log10(<tspan font-style="italic">q</tspan> value)</text>
<text x="380.80" y="421.30" font-size="7.1" fill="#333333">6</text>
<text x="380.80" y="437.60" font-size="7.1" fill="#333333">4</text>
<text x="380.80" y="454.60" font-size="7.1" fill="#333333">2</text>
<text x="347.00" y="619.30" font-size="7.3" fill="#333333" textLength="91.20" lengthAdjust="spacingAndGlyphs">Color code for metabolite IDs</text>
<text x="347.00" y="628.80" font-size="7.3" fill="#ec1c24" textLength="63.00" lengthAdjust="spacingAndGlyphs">Increased before NF</text>
<text x="347.00" y="636.30" font-size="7.3" fill="#2f4ea3" textLength="66.00" lengthAdjust="spacingAndGlyphs">Decreased before NF</text>
<rect x="0.5" y="0.5" width="518.8" height="675.8" fill="none" stroke="#000" stroke-width="1.3"/>
</svg></div></body></html>
